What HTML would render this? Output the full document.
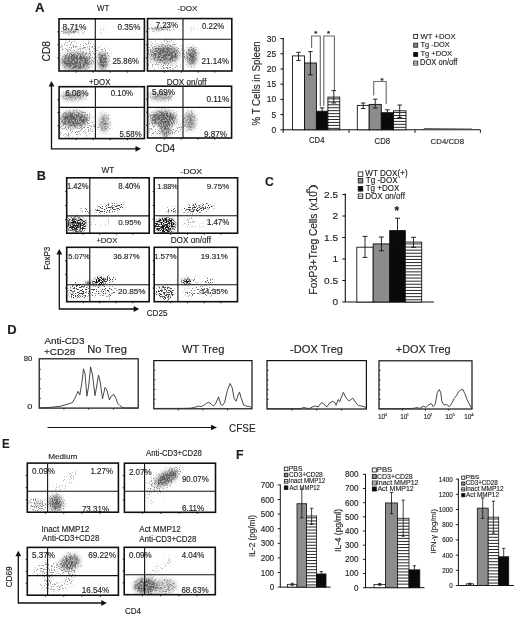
<!DOCTYPE html>
<html><head><meta charset="utf-8"><style>
html,body{margin:0;padding:0;background:#fff;}
svg{display:block;font-family:"Liberation Sans",sans-serif;will-change:transform;}
text{stroke:#1e1e1e;stroke-width:0.14px;}
</style></head><body>
<svg width="520" height="618" viewBox="0 0 520 618">
<defs><filter id="sp2" filterUnits="userSpaceOnUse" x="0" y="0" width="520" height="618" color-interpolation-filters="sRGB"><feGaussianBlur in="SourceGraphic" stdDeviation="0.9" result="b"/><feTurbulence type="fractalNoise" baseFrequency="0.6" numOctaves="2" seed="6" result="n"/><feColorMatrix in="n" type="matrix" values="0 0 0 0 0  0 0 0 0 0  0 0 0 0 0  3.2 0 0 0 -1.1" result="na"/><feComposite in="b" in2="na" operator="arithmetic" k1="1.0" k2="0.5" k3="0" k4="0" result="c"/><feColorMatrix in="c" type="matrix" values="0 0 0 0 0.3  0 0 0 0 0.3  0 0 0 0 0.3  0 0 0 1 0"/></filter><filter id="sps" filterUnits="userSpaceOnUse" x="0" y="0" width="520" height="618" color-interpolation-filters="sRGB"><feGaussianBlur in="SourceGraphic" stdDeviation="1.5" result="b"/><feTurbulence type="fractalNoise" baseFrequency="0.95" numOctaves="1" seed="11" result="n"/><feColorMatrix in="n" type="matrix" values="0 0 0 0 0  0 0 0 0 0  0 0 0 0 0  3.2 0 0 0 -1.1" result="na"/><feComposite in="b" in2="na" operator="arithmetic" k1="0" k2="3.5" k3="-3.5" k4="0" result="c"/><feColorMatrix in="c" type="matrix" values="0 0 0 0 0.12  0 0 0 0 0.12  0 0 0 0 0.12  0 0 0 0.85 0"/></filter><filter id="spt" filterUnits="userSpaceOnUse" x="0" y="0" width="520" height="618" color-interpolation-filters="sRGB"><feGaussianBlur in="SourceGraphic" stdDeviation="1.5" result="b"/><feTurbulence type="fractalNoise" baseFrequency="0.95" numOctaves="1" seed="13" result="n"/><feColorMatrix in="n" type="matrix" values="0 0 0 0 0  0 0 0 0 0  0 0 0 0 0  3.2 0 0 0 -1.1" result="na"/><feComposite in="b" in2="na" operator="arithmetic" k1="0" k2="3" k3="-3" k4="0" result="c"/><feColorMatrix in="c" type="matrix" values="0 0 0 0 0.38  0 0 0 0 0.38  0 0 0 0 0.38  0 0 0 0.75 0"/></filter><filter id="sp" filterUnits="userSpaceOnUse" x="0" y="0" width="520" height="618" color-interpolation-filters="sRGB"><feGaussianBlur in="SourceGraphic" stdDeviation="2.2" result="b"/><feTurbulence type="fractalNoise" baseFrequency="0.6" numOctaves="2" seed="4" result="n"/><feColorMatrix in="n" type="matrix" values="0 0 0 0 0  0 0 0 0 0  0 0 0 0 0  3.2 0 0 0 -1.1" result="na"/><feComposite in="b" in2="na" operator="arithmetic" k1="0.9" k2="0.55" k3="0" k4="0" result="c"/><feColorMatrix in="c" type="matrix" values="0 0 0 0 0.36  0 0 0 0 0.36  0 0 0 0 0.36  0 0 0 1 0"/></filter><filter id="spd" filterUnits="userSpaceOnUse" x="0" y="0" width="520" height="618" color-interpolation-filters="sRGB"><feGaussianBlur in="SourceGraphic" stdDeviation="1.5" result="b"/><feTurbulence type="fractalNoise" baseFrequency="0.8" numOctaves="2" seed="9" result="n"/><feColorMatrix in="n" type="matrix" values="0 0 0 0 0  0 0 0 0 0  0 0 0 0 0  3.2 0 0 0 -1.1" result="na"/><feComposite in="b" in2="na" operator="arithmetic" k1="3" k2="-0.5" k3="0" k4="0" result="c"/><feColorMatrix in="c" type="matrix" values="0 0 0 0 0.05  0 0 0 0 0.05  0 0 0 0 0.05  0 0 0 1 0"/></filter><filter id="spe" filterUnits="userSpaceOnUse" x="0" y="0" width="520" height="618" color-interpolation-filters="sRGB"><feGaussianBlur in="SourceGraphic" stdDeviation="1.8" result="b"/><feTurbulence type="fractalNoise" baseFrequency="0.7" numOctaves="2" seed="5" result="n"/><feColorMatrix in="n" type="matrix" values="0 0 0 0 0  0 0 0 0 0  0 0 0 0 0  3.2 0 0 0 -1.1" result="na"/><feComposite in="b" in2="na" operator="arithmetic" k1="1.6" k2="0.2" k3="0" k4="0" result="c"/><feColorMatrix in="c" type="matrix" values="0 0 0 0 0.25  0 0 0 0 0.25  0 0 0 0 0.25  0 0 0 1 0"/></filter><clipPath id="c1"><rect x="59.50" y="19.30" width="84.40" height="51.20"/></clipPath><clipPath id="c2"><rect x="59.50" y="19.30" width="84.40" height="51.20"/></clipPath><clipPath id="c3"><rect x="59.50" y="19.30" width="84.40" height="51.20"/></clipPath><clipPath id="c4"><rect x="148.00" y="19.10" width="83.30" height="51.40"/></clipPath><clipPath id="c5"><rect x="148.00" y="19.10" width="83.30" height="51.40"/></clipPath><clipPath id="c6"><rect x="148.00" y="19.10" width="83.30" height="51.40"/></clipPath><clipPath id="c7"><rect x="59.60" y="87.20" width="84.30" height="50.90"/></clipPath><clipPath id="c8"><rect x="59.60" y="87.20" width="84.30" height="50.90"/></clipPath><clipPath id="c9"><rect x="148.10" y="86.70" width="83.00" height="50.80"/></clipPath><clipPath id="c10"><rect x="148.10" y="86.70" width="83.00" height="50.80"/></clipPath><clipPath id="c11"><rect x="67.20" y="178.30" width="81.50" height="54.40"/></clipPath><clipPath id="c12"><rect x="67.20" y="178.30" width="81.50" height="54.40"/></clipPath><clipPath id="c13"><rect x="154.70" y="178.30" width="82.40" height="54.40"/></clipPath><clipPath id="c14"><rect x="154.70" y="178.30" width="82.40" height="54.40"/></clipPath><clipPath id="c15"><rect x="67.20" y="247.80" width="81.50" height="53.40"/></clipPath><clipPath id="c16"><rect x="67.20" y="247.80" width="81.50" height="53.40"/></clipPath><clipPath id="c17"><rect x="154.70" y="247.80" width="82.30" height="53.40"/></clipPath><clipPath id="c18"><rect x="154.70" y="247.80" width="82.30" height="53.40"/></clipPath><clipPath id="c19"><rect x="27.80" y="463.60" width="90.10" height="48.10"/></clipPath><clipPath id="c20"><rect x="27.80" y="463.60" width="90.10" height="48.10"/></clipPath><clipPath id="c21"><rect x="124.90" y="463.70" width="90.10" height="48.10"/></clipPath><clipPath id="c22"><rect x="124.90" y="463.70" width="90.10" height="48.10"/></clipPath><clipPath id="c23"><rect x="27.80" y="547.90" width="90.10" height="46.80"/></clipPath><clipPath id="c24"><rect x="27.80" y="547.90" width="90.10" height="46.80"/></clipPath><clipPath id="c25"><rect x="124.70" y="547.80" width="90.10" height="46.40"/></clipPath><clipPath id="c26"><rect x="124.70" y="547.80" width="90.10" height="46.40"/></clipPath></defs>
<rect width="520" height="618" fill="#fff"/>
<text x="35.07" y="11.90" font-size="13.04" textLength="9.59" lengthAdjust="spacingAndGlyphs" fill="#1e1e1e" font-weight="bold">A</text>
<text x="97.06" y="10.80" font-size="9.57" textLength="12.19" lengthAdjust="spacingAndGlyphs" fill="#1e1e1e">WT</text>
<text x="177.24" y="10.52" font-size="8.03" textLength="20.02" lengthAdjust="spacingAndGlyphs" fill="#1e1e1e">-DOX</text>
<text x="88.91" y="85.12" font-size="8.31" textLength="21.45" lengthAdjust="spacingAndGlyphs" fill="#1e1e1e">+DOX</text>
<text x="166.65" y="85.20" font-size="8.55" textLength="39.84" lengthAdjust="spacingAndGlyphs" fill="#1e1e1e">DOX on/off</text>
<g clip-path="url(#c1)"><g filter="url(#sp2)"><ellipse cx="70.5" cy="31.3" rx="8.5" ry="1.1" fill-opacity="0.75" transform="rotate(-4 70.5 31.3)"/></g></g>
<g clip-path="url(#c2)"><g filter="url(#sp)"><ellipse cx="76" cy="61.5" rx="15" ry="8.5" fill-opacity="0.8"/><ellipse cx="102.8" cy="61" rx="4.5" ry="8.5" fill-opacity="0.95"/></g></g>
<g clip-path="url(#c3)"><g filter="url(#spt)"><ellipse cx="77" cy="55" rx="22" ry="17" fill-opacity="0.3"/><ellipse cx="103" cy="32" rx="5" ry="5" fill-opacity="0.15"/><ellipse cx="72" cy="31" rx="16" ry="4" fill-opacity="0.25"/><ellipse cx="103" cy="58" rx="8" ry="12" fill-opacity="0.25"/></g></g>
<g clip-path="url(#c4)"><g filter="url(#sp2)"><ellipse cx="160" cy="28.8" rx="9" ry="1.3" fill-opacity="0.6" transform="rotate(-4 160 28.8)"/></g></g>
<g clip-path="url(#c5)"><g filter="url(#sp)"><ellipse cx="165" cy="54.5" rx="14" ry="8.5" fill-opacity="0.8"/><ellipse cx="192" cy="56.5" rx="4.5" ry="8.5" fill-opacity="0.95"/></g></g>
<g clip-path="url(#c6)"><g filter="url(#spt)"><ellipse cx="165" cy="55" rx="22" ry="17" fill-opacity="0.3"/><ellipse cx="192" cy="30" rx="5" ry="5" fill-opacity="0.15"/><ellipse cx="160" cy="28" rx="16" ry="4" fill-opacity="0.25"/><ellipse cx="192" cy="56" rx="8" ry="12" fill-opacity="0.25"/></g></g>
<g clip-path="url(#c7)"><g filter="url(#sp)"><ellipse cx="73" cy="96.5" rx="12" ry="3.5" fill-opacity="0.6"/><ellipse cx="74" cy="119.5" rx="14" ry="7.5" fill-opacity="0.85"/><ellipse cx="104" cy="123" rx="4.5" ry="9" fill-opacity="0.6"/></g></g>
<g clip-path="url(#c8)"><g filter="url(#spt)"><ellipse cx="75" cy="124" rx="21" ry="15" fill-opacity="0.3"/><ellipse cx="74" cy="96" rx="16" ry="5" fill-opacity="0.25"/><ellipse cx="104" cy="123" rx="8" ry="12" fill-opacity="0.2"/></g></g>
<g clip-path="url(#c9)"><g filter="url(#sp)"><ellipse cx="161" cy="96.5" rx="11" ry="3.5" fill-opacity="0.6"/><ellipse cx="163" cy="118.5" rx="13" ry="7.5" fill-opacity="0.85"/><ellipse cx="165.5" cy="129" rx="5" ry="8" fill-opacity="0.7"/><ellipse cx="190" cy="121" rx="5.5" ry="9" fill-opacity="0.6"/></g></g>
<g clip-path="url(#c10)"><g filter="url(#spt)"><ellipse cx="164" cy="124" rx="21" ry="15" fill-opacity="0.3"/><ellipse cx="161" cy="96" rx="16" ry="5" fill-opacity="0.25"/><ellipse cx="190" cy="121" rx="8" ry="12" fill-opacity="0.2"/></g></g>
<rect x="59.00" y="18.80" width="85.40" height="52.20" fill="none" stroke="#111" stroke-width="1.6"/>
<line x1="95.30" y1="18.80" x2="95.30" y2="71.00" stroke="#111" stroke-width="1.1"/>
<line x1="59.00" y1="39.40" x2="144.40" y2="39.40" stroke="#111" stroke-width="1.1"/>
<line x1="57.40" y1="57.95" x2="59.00" y2="57.95" stroke="#111" stroke-width="0.9"/>
<line x1="57.40" y1="44.90" x2="59.00" y2="44.90" stroke="#111" stroke-width="0.9"/>
<line x1="57.40" y1="31.85" x2="59.00" y2="31.85" stroke="#111" stroke-width="0.9"/>
<line x1="76.08" y1="71.00" x2="76.08" y2="72.60" stroke="#111" stroke-width="0.9"/>
<line x1="93.16" y1="71.00" x2="93.16" y2="72.60" stroke="#111" stroke-width="0.9"/>
<line x1="110.24" y1="71.00" x2="110.24" y2="72.60" stroke="#111" stroke-width="0.9"/>
<line x1="127.32" y1="71.00" x2="127.32" y2="72.60" stroke="#111" stroke-width="0.9"/>
<rect x="147.50" y="18.60" width="84.30" height="52.40" fill="none" stroke="#111" stroke-width="1.6"/>
<line x1="183.00" y1="18.60" x2="183.00" y2="71.00" stroke="#111" stroke-width="1.1"/>
<line x1="147.50" y1="39.30" x2="231.80" y2="39.30" stroke="#111" stroke-width="1.1"/>
<line x1="145.90" y1="57.90" x2="147.50" y2="57.90" stroke="#111" stroke-width="0.9"/>
<line x1="145.90" y1="44.80" x2="147.50" y2="44.80" stroke="#111" stroke-width="0.9"/>
<line x1="145.90" y1="31.70" x2="147.50" y2="31.70" stroke="#111" stroke-width="0.9"/>
<line x1="164.36" y1="71.00" x2="164.36" y2="72.60" stroke="#111" stroke-width="0.9"/>
<line x1="181.22" y1="71.00" x2="181.22" y2="72.60" stroke="#111" stroke-width="0.9"/>
<line x1="198.08" y1="71.00" x2="198.08" y2="72.60" stroke="#111" stroke-width="0.9"/>
<line x1="214.94" y1="71.00" x2="214.94" y2="72.60" stroke="#111" stroke-width="0.9"/>
<rect x="59.10" y="86.70" width="85.30" height="51.90" fill="none" stroke="#111" stroke-width="1.6"/>
<line x1="95.40" y1="86.70" x2="95.40" y2="138.60" stroke="#111" stroke-width="1.1"/>
<line x1="59.10" y1="107.40" x2="144.40" y2="107.40" stroke="#111" stroke-width="1.1"/>
<line x1="57.50" y1="125.62" x2="59.10" y2="125.62" stroke="#111" stroke-width="0.9"/>
<line x1="57.50" y1="112.65" x2="59.10" y2="112.65" stroke="#111" stroke-width="0.9"/>
<line x1="57.50" y1="99.67" x2="59.10" y2="99.67" stroke="#111" stroke-width="0.9"/>
<line x1="76.16" y1="138.60" x2="76.16" y2="140.20" stroke="#111" stroke-width="0.9"/>
<line x1="93.22" y1="138.60" x2="93.22" y2="140.20" stroke="#111" stroke-width="0.9"/>
<line x1="110.28" y1="138.60" x2="110.28" y2="140.20" stroke="#111" stroke-width="0.9"/>
<line x1="127.34" y1="138.60" x2="127.34" y2="140.20" stroke="#111" stroke-width="0.9"/>
<rect x="147.60" y="86.20" width="84.00" height="51.80" fill="none" stroke="#111" stroke-width="1.6"/>
<line x1="183.00" y1="86.20" x2="183.00" y2="138.00" stroke="#111" stroke-width="1.1"/>
<line x1="147.60" y1="107.40" x2="231.60" y2="107.40" stroke="#111" stroke-width="1.1"/>
<line x1="146.00" y1="125.05" x2="147.60" y2="125.05" stroke="#111" stroke-width="0.9"/>
<line x1="146.00" y1="112.10" x2="147.60" y2="112.10" stroke="#111" stroke-width="0.9"/>
<line x1="146.00" y1="99.15" x2="147.60" y2="99.15" stroke="#111" stroke-width="0.9"/>
<line x1="164.40" y1="138.00" x2="164.40" y2="139.60" stroke="#111" stroke-width="0.9"/>
<line x1="181.20" y1="138.00" x2="181.20" y2="139.60" stroke="#111" stroke-width="0.9"/>
<line x1="198.00" y1="138.00" x2="198.00" y2="139.60" stroke="#111" stroke-width="0.9"/>
<line x1="214.80" y1="138.00" x2="214.80" y2="139.60" stroke="#111" stroke-width="0.9"/>
<text x="62.62" y="30.11" font-size="9.37" textLength="23.88" lengthAdjust="spacingAndGlyphs" fill="#1e1e1e">8.71%</text>
<text x="117.48" y="30.11" font-size="9.37" textLength="23.01" lengthAdjust="spacingAndGlyphs" fill="#1e1e1e">0.35%</text>
<text x="112.41" y="64.12" font-size="8.45" textLength="26.54" lengthAdjust="spacingAndGlyphs" fill="#1e1e1e">25.86%</text>
<text x="155.71" y="27.61" font-size="9.01" textLength="22.27" lengthAdjust="spacingAndGlyphs" fill="#1e1e1e">7.23%</text>
<text x="201.99" y="28.61" font-size="9.01" textLength="22.24" lengthAdjust="spacingAndGlyphs" fill="#1e1e1e">0.22%</text>
<text x="201.39" y="64.36" font-size="8.65" textLength="27.56" lengthAdjust="spacingAndGlyphs" fill="#1e1e1e">21.14%</text>
<text x="65.19" y="96.31" font-size="8.73" textLength="23.30" lengthAdjust="spacingAndGlyphs" fill="#1e1e1e">6.08%</text>
<text x="110.74" y="96.36" font-size="8.66" textLength="22.24" lengthAdjust="spacingAndGlyphs" fill="#1e1e1e">0.10%</text>
<text x="119.49" y="136.62" font-size="8.31" textLength="22.19" lengthAdjust="spacingAndGlyphs" fill="#1e1e1e">5.58%</text>
<text x="151.98" y="95.11" font-size="9.37" textLength="23.01" lengthAdjust="spacingAndGlyphs" fill="#1e1e1e">5.69%</text>
<text x="206.47" y="102.11" font-size="8.73" textLength="22.83" lengthAdjust="spacingAndGlyphs" fill="#1e1e1e">0.11%</text>
<text x="204.04" y="136.92" font-size="8.45" textLength="22.95" lengthAdjust="spacingAndGlyphs" fill="#1e1e1e">9.87%</text>
<text transform="translate(49.58,61.52) rotate(-90)" x="0" y="0" font-size="11.83" textLength="20.63" lengthAdjust="spacingAndGlyphs" fill="#1e1e1e">CD8</text>
<text x="155.31" y="152.30" font-size="10.28" textLength="19.80" lengthAdjust="spacingAndGlyphs" fill="#1e1e1e">CD4</text>
<line x1="51.50" y1="149.40" x2="51.50" y2="85.00" stroke="#111" stroke-width="1.3"/>
<line x1="51.50" y1="148.80" x2="137.00" y2="148.80" stroke="#111" stroke-width="1.3"/>
<path d="M48.6 86.5 L51.5 81.0 L54.4 86.5Z" fill="#111"/>
<path d="M135.5 145.9 L141.0 148.8 L135.5 151.7Z" fill="#111"/>
<text transform="translate(260.40,125.44) rotate(-90)" x="0" y="0" font-size="10.43" textLength="84.17" lengthAdjust="spacingAndGlyphs" fill="#1e1e1e">% T Cells in Spleen</text>
<text x="276.24" y="132.89" font-size="8.70" text-anchor="end" textLength="4.69" lengthAdjust="spacingAndGlyphs" fill="#1e1e1e">0</text>
<line x1="280.40" y1="129.80" x2="283.20" y2="129.80" stroke="#111" stroke-width="1"/>
<text x="276.24" y="117.69" font-size="8.70" text-anchor="end" textLength="4.69" lengthAdjust="spacingAndGlyphs" fill="#1e1e1e">5</text>
<line x1="280.40" y1="114.60" x2="283.20" y2="114.60" stroke="#111" stroke-width="1"/>
<text x="276.24" y="102.49" font-size="8.70" text-anchor="end" textLength="9.39" lengthAdjust="spacingAndGlyphs" fill="#1e1e1e">10</text>
<line x1="280.40" y1="99.40" x2="283.20" y2="99.40" stroke="#111" stroke-width="1"/>
<text x="276.24" y="87.29" font-size="8.70" text-anchor="end" textLength="9.39" lengthAdjust="spacingAndGlyphs" fill="#1e1e1e">15</text>
<line x1="280.40" y1="84.20" x2="283.20" y2="84.20" stroke="#111" stroke-width="1"/>
<text x="276.24" y="72.09" font-size="8.70" text-anchor="end" textLength="9.39" lengthAdjust="spacingAndGlyphs" fill="#1e1e1e">20</text>
<line x1="280.40" y1="69.00" x2="283.20" y2="69.00" stroke="#111" stroke-width="1"/>
<text x="276.24" y="56.89" font-size="8.70" text-anchor="end" textLength="9.39" lengthAdjust="spacingAndGlyphs" fill="#1e1e1e">25</text>
<line x1="280.40" y1="53.80" x2="283.20" y2="53.80" stroke="#111" stroke-width="1"/>
<text x="276.24" y="41.69" font-size="8.70" text-anchor="end" textLength="9.39" lengthAdjust="spacingAndGlyphs" fill="#1e1e1e">30</text>
<line x1="280.40" y1="38.60" x2="283.20" y2="38.60" stroke="#111" stroke-width="1"/>
<line x1="283.20" y1="38.00" x2="283.20" y2="132.70" stroke="#111" stroke-width="1.1"/>
<line x1="283.20" y1="129.80" x2="480.40" y2="129.80" stroke="#111" stroke-width="1.1"/>
<line x1="349.00" y1="129.80" x2="349.00" y2="132.80" stroke="#111" stroke-width="1"/>
<line x1="415.00" y1="129.80" x2="415.00" y2="132.80" stroke="#111" stroke-width="1"/>
<line x1="480.40" y1="129.80" x2="480.40" y2="132.80" stroke="#111" stroke-width="1"/>
<rect x="292.50" y="55.90" width="12.00" height="73.90" fill="#fff" stroke="#111" stroke-width="0.9"/>
<line x1="298.50" y1="52.30" x2="298.50" y2="60.40" stroke="#111" stroke-width="0.9"/>
<line x1="296.25" y1="52.30" x2="300.75" y2="52.30" stroke="#111" stroke-width="0.9"/>
<line x1="296.25" y1="60.40" x2="300.75" y2="60.40" stroke="#111" stroke-width="0.9"/>
<rect x="304.50" y="63.00" width="11.90" height="66.80" fill="#8c8c8c" stroke="#111" stroke-width="0.9"/>
<line x1="310.40" y1="51.60" x2="310.40" y2="74.80" stroke="#111" stroke-width="0.9"/>
<line x1="308.15" y1="51.60" x2="312.65" y2="51.60" stroke="#111" stroke-width="0.9"/>
<line x1="308.15" y1="74.80" x2="312.65" y2="74.80" stroke="#111" stroke-width="0.9"/>
<rect x="316.40" y="111.25" width="11.50" height="18.55" fill="#0a0a0a" stroke="#111" stroke-width="0.9"/>
<line x1="322.10" y1="107.90" x2="322.10" y2="114.50" stroke="#111" stroke-width="0.9"/>
<line x1="319.85" y1="107.90" x2="324.35" y2="107.90" stroke="#111" stroke-width="0.9"/>
<line x1="319.85" y1="114.50" x2="324.35" y2="114.50" stroke="#111" stroke-width="0.9"/>
<rect x="327.90" y="97.10" width="11.85" height="32.70" fill="#fff" stroke="#111" stroke-width="0.9"/>
<line x1="327.90" y1="98.87" x2="339.75" y2="98.87" stroke="#111" stroke-width="0.9"/>
<line x1="327.90" y1="101.82" x2="339.75" y2="101.82" stroke="#111" stroke-width="0.9"/>
<line x1="327.90" y1="104.77" x2="339.75" y2="104.77" stroke="#111" stroke-width="0.9"/>
<line x1="327.90" y1="107.72" x2="339.75" y2="107.72" stroke="#111" stroke-width="0.9"/>
<line x1="327.90" y1="110.67" x2="339.75" y2="110.67" stroke="#111" stroke-width="0.9"/>
<line x1="327.90" y1="113.62" x2="339.75" y2="113.62" stroke="#111" stroke-width="0.9"/>
<line x1="327.90" y1="116.57" x2="339.75" y2="116.57" stroke="#111" stroke-width="0.9"/>
<line x1="327.90" y1="119.52" x2="339.75" y2="119.52" stroke="#111" stroke-width="0.9"/>
<line x1="327.90" y1="122.47" x2="339.75" y2="122.47" stroke="#111" stroke-width="0.9"/>
<line x1="327.90" y1="125.42" x2="339.75" y2="125.42" stroke="#111" stroke-width="0.9"/>
<line x1="327.90" y1="128.37" x2="339.75" y2="128.37" stroke="#111" stroke-width="0.9"/>
<line x1="333.80" y1="90.60" x2="333.80" y2="103.00" stroke="#111" stroke-width="0.9"/>
<line x1="331.55" y1="90.60" x2="336.05" y2="90.60" stroke="#111" stroke-width="0.9"/>
<line x1="331.55" y1="103.00" x2="336.05" y2="103.00" stroke="#111" stroke-width="0.9"/>
<rect x="357.30" y="105.40" width="11.90" height="24.40" fill="#fff" stroke="#111" stroke-width="0.9"/>
<line x1="363.20" y1="103.00" x2="363.20" y2="108.50" stroke="#111" stroke-width="0.9"/>
<line x1="360.95" y1="103.00" x2="365.45" y2="103.00" stroke="#111" stroke-width="0.9"/>
<line x1="360.95" y1="108.50" x2="365.45" y2="108.50" stroke="#111" stroke-width="0.9"/>
<rect x="369.20" y="104.40" width="12.10" height="25.40" fill="#8c8c8c" stroke="#111" stroke-width="0.9"/>
<line x1="375.20" y1="99.20" x2="375.20" y2="108.00" stroke="#111" stroke-width="0.9"/>
<line x1="372.95" y1="99.20" x2="377.45" y2="99.20" stroke="#111" stroke-width="0.9"/>
<line x1="372.95" y1="108.00" x2="377.45" y2="108.00" stroke="#111" stroke-width="0.9"/>
<rect x="381.30" y="112.70" width="12.20" height="17.10" fill="#0a0a0a" stroke="#111" stroke-width="0.9"/>
<line x1="387.40" y1="109.80" x2="387.40" y2="115.50" stroke="#111" stroke-width="0.9"/>
<line x1="385.15" y1="109.80" x2="389.65" y2="109.80" stroke="#111" stroke-width="0.9"/>
<line x1="385.15" y1="115.50" x2="389.65" y2="115.50" stroke="#111" stroke-width="0.9"/>
<rect x="393.50" y="110.80" width="12.50" height="19.00" fill="#fff" stroke="#111" stroke-width="0.9"/>
<line x1="393.50" y1="112.57" x2="406.00" y2="112.57" stroke="#111" stroke-width="0.9"/>
<line x1="393.50" y1="115.52" x2="406.00" y2="115.52" stroke="#111" stroke-width="0.9"/>
<line x1="393.50" y1="118.47" x2="406.00" y2="118.47" stroke="#111" stroke-width="0.9"/>
<line x1="393.50" y1="121.42" x2="406.00" y2="121.42" stroke="#111" stroke-width="0.9"/>
<line x1="393.50" y1="124.37" x2="406.00" y2="124.37" stroke="#111" stroke-width="0.9"/>
<line x1="393.50" y1="127.32" x2="406.00" y2="127.32" stroke="#111" stroke-width="0.9"/>
<line x1="399.70" y1="105.00" x2="399.70" y2="117.50" stroke="#111" stroke-width="0.9"/>
<line x1="397.45" y1="105.00" x2="401.95" y2="105.00" stroke="#111" stroke-width="0.9"/>
<line x1="397.45" y1="117.50" x2="401.95" y2="117.50" stroke="#111" stroke-width="0.9"/>
<path d="M423 129.8 L424 128.6 L472 128.9 L472 129.8" fill="#555" stroke="#333" stroke-width="0.6"/>
<path d="M311.6 48.1 V36 H320.3 V106.4" fill="none" stroke="#6e6e6e" stroke-width="1.15"/>
<path d="M323.8 106 V36 H334.4 V90" fill="none" stroke="#6e6e6e" stroke-width="1.15"/>
<path d="M373.7 95.4 V81.5 H386.2 V104" fill="none" stroke="#6e6e6e" stroke-width="1.15"/>
<text x="314.27" y="36.36" font-size="7.84" font-weight="bold" fill="#1e1e1e">*</text>
<text x="327.07" y="36.36" font-size="7.84" font-weight="bold" fill="#1e1e1e">*</text>
<text x="380.47" y="82.86" font-size="7.84" font-weight="bold" fill="#1e1e1e">*</text>
<text x="309.01" y="143.42" font-size="8.17" textLength="15.42" lengthAdjust="spacingAndGlyphs" fill="#1e1e1e">CD4</text>
<text x="374.61" y="143.92" font-size="8.31" textLength="15.50" lengthAdjust="spacingAndGlyphs" fill="#1e1e1e">CD8</text>
<text x="430.61" y="143.92" font-size="8.03" textLength="33.39" lengthAdjust="spacingAndGlyphs" fill="#1e1e1e">CD4/CD8</text>
<rect x="413.70" y="34.50" width="4.00" height="4.00" fill="#fff" stroke="#111" stroke-width="0.8"/>
<rect x="413.70" y="43.20" width="4.00" height="4.00" fill="#8c8c8c" stroke="#111" stroke-width="0.8"/>
<rect x="413.70" y="52.40" width="4.00" height="4.00" fill="#0a0a0a" stroke="#111" stroke-width="0.8"/>
<rect x="413.70" y="61.10" width="4.00" height="4.00" fill="#fff" stroke="#111" stroke-width="0.8"/>
<line x1="413.70" y1="63.10" x2="417.70" y2="63.10" stroke="#111" stroke-width="0.7"/>
<text x="420.56" y="38.60" font-size="7.97" textLength="35.00" lengthAdjust="spacingAndGlyphs" fill="#1e1e1e">WT +DOX</text>
<text x="420.45" y="47.20" font-size="7.54" textLength="29.30" lengthAdjust="spacingAndGlyphs" fill="#1e1e1e">Tg -DOX</text>
<text x="420.45" y="56.10" font-size="7.83" textLength="31.71" lengthAdjust="spacingAndGlyphs" fill="#1e1e1e">Tg +DOX</text>
<text x="419.99" y="65.20" font-size="8.26" textLength="37.30" lengthAdjust="spacingAndGlyphs" fill="#1e1e1e">DOX on/off</text>
<text x="36.67" y="179.90" font-size="13.33" textLength="9.23" lengthAdjust="spacingAndGlyphs" fill="#1e1e1e" font-weight="bold">B</text>
<g clip-path="url(#c11)"><g filter="url(#spd)"><ellipse cx="77" cy="224.5" rx="9" ry="7" fill-opacity="0.55"/></g></g>
<g clip-path="url(#c12)"><g filter="url(#sps)"><ellipse cx="110" cy="208" rx="15" ry="4" fill-opacity="0.45" transform="rotate(-8 110 208)"/><ellipse cx="86" cy="210" rx="6" ry="3" fill-opacity="0.25"/><ellipse cx="100" cy="222" rx="10" ry="5" fill-opacity="0.14"/><ellipse cx="77" cy="224.5" rx="11" ry="8.5" fill-opacity="0.4"/></g></g>
<g clip-path="url(#c13)"><g filter="url(#spd)"><ellipse cx="165" cy="225" rx="10" ry="7.5" fill-opacity="0.65"/></g></g>
<g clip-path="url(#c14)"><g filter="url(#sps)"><ellipse cx="198" cy="208" rx="16" ry="4.5" fill-opacity="0.45" transform="rotate(-8 198 208)"/><ellipse cx="172" cy="210" rx="7" ry="3" fill-opacity="0.3"/><ellipse cx="195" cy="222" rx="14" ry="5" fill-opacity="0.16"/><ellipse cx="165" cy="225" rx="12" ry="9" fill-opacity="0.3"/></g></g>
<g clip-path="url(#c15)"><g filter="url(#spd)"><ellipse cx="100" cy="281" rx="5.5" ry="3.5" fill-opacity="0.95"/><ellipse cx="90" cy="283" rx="6" ry="2" fill-opacity="0.4"/></g></g>
<g clip-path="url(#c16)"><g filter="url(#sps)"><ellipse cx="79" cy="292" rx="10" ry="8" fill-opacity="0.5"/><ellipse cx="103" cy="292" rx="14" ry="7" fill-opacity="0.3"/><ellipse cx="108" cy="279" rx="14" ry="3.5" fill-opacity="0.35"/><ellipse cx="78" cy="281" rx="8" ry="3" fill-opacity="0.2"/></g></g>
<g clip-path="url(#c17)"><g filter="url(#spd)"><ellipse cx="186" cy="281.5" rx="4" ry="2.4" fill-opacity="0.85"/></g></g>
<g clip-path="url(#c18)"><g filter="url(#sps)"><ellipse cx="165" cy="293" rx="9" ry="7" fill-opacity="0.62"/><ellipse cx="198" cy="281" rx="16" ry="3.5" fill-opacity="0.36"/><ellipse cx="200" cy="292" rx="16" ry="6" fill-opacity="0.24"/></g></g>
<rect x="66.70" y="177.80" width="82.50" height="55.40" fill="none" stroke="#111" stroke-width="1.6"/>
<line x1="89.80" y1="177.80" x2="89.80" y2="233.20" stroke="#111" stroke-width="1.1"/>
<line x1="66.70" y1="215.90" x2="149.20" y2="215.90" stroke="#111" stroke-width="1.1"/>
<line x1="65.10" y1="219.35" x2="66.70" y2="219.35" stroke="#111" stroke-width="0.9"/>
<line x1="65.10" y1="205.50" x2="66.70" y2="205.50" stroke="#111" stroke-width="0.9"/>
<line x1="65.10" y1="191.65" x2="66.70" y2="191.65" stroke="#111" stroke-width="0.9"/>
<line x1="83.20" y1="233.20" x2="83.20" y2="234.80" stroke="#111" stroke-width="0.9"/>
<line x1="99.70" y1="233.20" x2="99.70" y2="234.80" stroke="#111" stroke-width="0.9"/>
<line x1="116.20" y1="233.20" x2="116.20" y2="234.80" stroke="#111" stroke-width="0.9"/>
<line x1="132.70" y1="233.20" x2="132.70" y2="234.80" stroke="#111" stroke-width="0.9"/>
<rect x="154.20" y="177.80" width="83.40" height="55.40" fill="none" stroke="#111" stroke-width="1.6"/>
<line x1="177.90" y1="177.80" x2="177.90" y2="233.20" stroke="#111" stroke-width="1.1"/>
<line x1="154.20" y1="215.70" x2="237.60" y2="215.70" stroke="#111" stroke-width="1.1"/>
<line x1="152.60" y1="219.35" x2="154.20" y2="219.35" stroke="#111" stroke-width="0.9"/>
<line x1="152.60" y1="205.50" x2="154.20" y2="205.50" stroke="#111" stroke-width="0.9"/>
<line x1="152.60" y1="191.65" x2="154.20" y2="191.65" stroke="#111" stroke-width="0.9"/>
<line x1="170.88" y1="233.20" x2="170.88" y2="234.80" stroke="#111" stroke-width="0.9"/>
<line x1="187.56" y1="233.20" x2="187.56" y2="234.80" stroke="#111" stroke-width="0.9"/>
<line x1="204.24" y1="233.20" x2="204.24" y2="234.80" stroke="#111" stroke-width="0.9"/>
<line x1="220.92" y1="233.20" x2="220.92" y2="234.80" stroke="#111" stroke-width="0.9"/>
<rect x="66.70" y="247.30" width="82.50" height="54.40" fill="none" stroke="#111" stroke-width="1.6"/>
<line x1="89.80" y1="247.30" x2="89.80" y2="301.70" stroke="#111" stroke-width="1.1"/>
<line x1="66.70" y1="284.80" x2="149.20" y2="284.80" stroke="#111" stroke-width="1.1"/>
<line x1="65.10" y1="288.10" x2="66.70" y2="288.10" stroke="#111" stroke-width="0.9"/>
<line x1="65.10" y1="274.50" x2="66.70" y2="274.50" stroke="#111" stroke-width="0.9"/>
<line x1="65.10" y1="260.90" x2="66.70" y2="260.90" stroke="#111" stroke-width="0.9"/>
<line x1="83.20" y1="301.70" x2="83.20" y2="303.30" stroke="#111" stroke-width="0.9"/>
<line x1="99.70" y1="301.70" x2="99.70" y2="303.30" stroke="#111" stroke-width="0.9"/>
<line x1="116.20" y1="301.70" x2="116.20" y2="303.30" stroke="#111" stroke-width="0.9"/>
<line x1="132.70" y1="301.70" x2="132.70" y2="303.30" stroke="#111" stroke-width="0.9"/>
<rect x="154.20" y="247.30" width="83.30" height="54.40" fill="none" stroke="#111" stroke-width="1.6"/>
<line x1="177.90" y1="247.30" x2="177.90" y2="301.70" stroke="#111" stroke-width="1.1"/>
<line x1="154.20" y1="284.80" x2="237.50" y2="284.80" stroke="#111" stroke-width="1.1"/>
<line x1="152.60" y1="288.10" x2="154.20" y2="288.10" stroke="#111" stroke-width="0.9"/>
<line x1="152.60" y1="274.50" x2="154.20" y2="274.50" stroke="#111" stroke-width="0.9"/>
<line x1="152.60" y1="260.90" x2="154.20" y2="260.90" stroke="#111" stroke-width="0.9"/>
<line x1="170.86" y1="301.70" x2="170.86" y2="303.30" stroke="#111" stroke-width="0.9"/>
<line x1="187.52" y1="301.70" x2="187.52" y2="303.30" stroke="#111" stroke-width="0.9"/>
<line x1="204.18" y1="301.70" x2="204.18" y2="303.30" stroke="#111" stroke-width="0.9"/>
<line x1="220.84" y1="301.70" x2="220.84" y2="303.30" stroke="#111" stroke-width="0.9"/>
<text x="101.46" y="172.50" font-size="9.57" textLength="12.80" lengthAdjust="spacingAndGlyphs" fill="#1e1e1e">WT</text>
<text x="180.20" y="173.92" font-size="7.75" textLength="22.07" lengthAdjust="spacingAndGlyphs" fill="#1e1e1e">-DOX</text>
<text x="96.42" y="243.12" font-size="8.03" textLength="20.94" lengthAdjust="spacingAndGlyphs" fill="#1e1e1e">+DOX</text>
<text x="170.65" y="243.20" font-size="8.26" textLength="40.34" lengthAdjust="spacingAndGlyphs" fill="#1e1e1e">DOX on/off</text>
<text x="66.93" y="188.66" font-size="8.37" textLength="21.44" lengthAdjust="spacingAndGlyphs" fill="#1e1e1e">1.42%</text>
<text x="118.15" y="188.62" font-size="8.31" textLength="22.13" lengthAdjust="spacingAndGlyphs" fill="#1e1e1e">8.40%</text>
<text x="118.18" y="225.12" font-size="7.89" textLength="22.70" lengthAdjust="spacingAndGlyphs" fill="#1e1e1e">0.95%</text>
<text x="157.26" y="188.92" font-size="8.03" textLength="20.50" lengthAdjust="spacingAndGlyphs" fill="#1e1e1e">1.88%</text>
<text x="206.74" y="188.92" font-size="8.03" textLength="22.54" lengthAdjust="spacingAndGlyphs" fill="#1e1e1e">9.75%</text>
<text x="206.91" y="224.96" font-size="8.29" textLength="22.37" lengthAdjust="spacingAndGlyphs" fill="#1e1e1e">1.47%</text>
<text x="68.20" y="258.92" font-size="7.75" textLength="21.47" lengthAdjust="spacingAndGlyphs" fill="#1e1e1e">5.07%</text>
<text x="113.29" y="258.92" font-size="7.75" textLength="26.36" lengthAdjust="spacingAndGlyphs" fill="#1e1e1e">36.87%</text>
<text x="118.10" y="294.12" font-size="7.89" textLength="27.36" lengthAdjust="spacingAndGlyphs" fill="#1e1e1e">20.85%</text>
<text x="154.01" y="258.92" font-size="7.80" textLength="22.48" lengthAdjust="spacingAndGlyphs" fill="#1e1e1e">1.57%</text>
<text x="200.70" y="258.92" font-size="7.75" textLength="27.05" lengthAdjust="spacingAndGlyphs" fill="#1e1e1e">19.31%</text>
<text x="200.70" y="294.12" font-size="7.89" textLength="27.05" lengthAdjust="spacingAndGlyphs" fill="#1e1e1e">14.35%</text>
<text transform="translate(49.81,269.74) rotate(-90)" x="0" y="0" font-size="9.15" textLength="22.95" lengthAdjust="spacingAndGlyphs" fill="#1e1e1e">FoxP3</text>
<text x="146.69" y="316.12" font-size="8.31" textLength="20.85" lengthAdjust="spacingAndGlyphs" fill="#1e1e1e">CD25</text>
<line x1="59.30" y1="309.60" x2="59.30" y2="253.00" stroke="#111" stroke-width="1.3"/>
<line x1="59.30" y1="309.00" x2="135.20" y2="309.00" stroke="#111" stroke-width="1.3"/>
<path d="M56.4 254.5 L59.3 249.0 L62.2 254.5Z" fill="#111"/>
<path d="M133.7 306.1 L139.2 309.0 L133.7 311.9Z" fill="#111"/>
<text x="265.11" y="185.87" font-size="13.24" textLength="8.82" lengthAdjust="spacingAndGlyphs" fill="#1e1e1e" font-weight="bold">C</text>
<text x="338.20" y="305.27" font-size="9.20" text-anchor="end" textLength="5.63" lengthAdjust="spacingAndGlyphs" fill="#1e1e1e">0</text>
<line x1="342.30" y1="302.00" x2="345.30" y2="302.00" stroke="#111" stroke-width="1"/>
<text x="338.20" y="283.77" font-size="9.20" text-anchor="end" textLength="14.07" lengthAdjust="spacingAndGlyphs" fill="#1e1e1e">0.5</text>
<line x1="342.30" y1="280.50" x2="345.30" y2="280.50" stroke="#111" stroke-width="1"/>
<text x="338.20" y="262.27" font-size="9.20" text-anchor="end" textLength="5.63" lengthAdjust="spacingAndGlyphs" fill="#1e1e1e">1</text>
<line x1="342.30" y1="259.00" x2="345.30" y2="259.00" stroke="#111" stroke-width="1"/>
<text x="338.20" y="240.77" font-size="9.20" text-anchor="end" textLength="14.07" lengthAdjust="spacingAndGlyphs" fill="#1e1e1e">1.5</text>
<line x1="342.30" y1="237.50" x2="345.30" y2="237.50" stroke="#111" stroke-width="1"/>
<text x="338.20" y="219.27" font-size="9.20" text-anchor="end" textLength="5.63" lengthAdjust="spacingAndGlyphs" fill="#1e1e1e">2</text>
<line x1="342.30" y1="216.00" x2="345.30" y2="216.00" stroke="#111" stroke-width="1"/>
<text x="338.20" y="197.77" font-size="9.20" text-anchor="end" textLength="14.07" lengthAdjust="spacingAndGlyphs" fill="#1e1e1e">2.5</text>
<line x1="342.30" y1="194.50" x2="345.30" y2="194.50" stroke="#111" stroke-width="1"/>
<line x1="345.30" y1="193.50" x2="345.30" y2="302.00" stroke="#111" stroke-width="1.1"/>
<line x1="345.30" y1="302.00" x2="434.00" y2="302.00" stroke="#111" stroke-width="1.1"/>
<rect x="356.80" y="247.20" width="16.40" height="54.80" fill="#fff" stroke="#111" stroke-width="0.9"/>
<line x1="365.00" y1="236.40" x2="365.00" y2="257.40" stroke="#111" stroke-width="0.9"/>
<line x1="362.50" y1="236.40" x2="367.50" y2="236.40" stroke="#111" stroke-width="0.9"/>
<line x1="362.50" y1="257.40" x2="367.50" y2="257.40" stroke="#111" stroke-width="0.9"/>
<rect x="373.20" y="243.90" width="16.50" height="58.10" fill="#8c8c8c" stroke="#111" stroke-width="0.9"/>
<line x1="381.40" y1="237.00" x2="381.40" y2="250.80" stroke="#111" stroke-width="0.9"/>
<line x1="378.90" y1="237.00" x2="383.90" y2="237.00" stroke="#111" stroke-width="0.9"/>
<line x1="378.90" y1="250.80" x2="383.90" y2="250.80" stroke="#111" stroke-width="0.9"/>
<rect x="389.70" y="230.60" width="15.60" height="71.40" fill="#0a0a0a" stroke="#111" stroke-width="0.9"/>
<line x1="397.50" y1="218.20" x2="397.50" y2="240.00" stroke="#111" stroke-width="0.9"/>
<line x1="395.00" y1="218.20" x2="400.00" y2="218.20" stroke="#111" stroke-width="0.9"/>
<line x1="395.00" y1="240.00" x2="400.00" y2="240.00" stroke="#111" stroke-width="0.9"/>
<rect x="405.30" y="242.10" width="16.40" height="59.90" fill="#fff" stroke="#111" stroke-width="0.9"/>
<line x1="405.30" y1="243.96" x2="421.70" y2="243.96" stroke="#111" stroke-width="0.9"/>
<line x1="405.30" y1="247.06" x2="421.70" y2="247.06" stroke="#111" stroke-width="0.9"/>
<line x1="405.30" y1="250.16" x2="421.70" y2="250.16" stroke="#111" stroke-width="0.9"/>
<line x1="405.30" y1="253.26" x2="421.70" y2="253.26" stroke="#111" stroke-width="0.9"/>
<line x1="405.30" y1="256.36" x2="421.70" y2="256.36" stroke="#111" stroke-width="0.9"/>
<line x1="405.30" y1="259.46" x2="421.70" y2="259.46" stroke="#111" stroke-width="0.9"/>
<line x1="405.30" y1="262.56" x2="421.70" y2="262.56" stroke="#111" stroke-width="0.9"/>
<line x1="405.30" y1="265.66" x2="421.70" y2="265.66" stroke="#111" stroke-width="0.9"/>
<line x1="405.30" y1="268.76" x2="421.70" y2="268.76" stroke="#111" stroke-width="0.9"/>
<line x1="405.30" y1="271.86" x2="421.70" y2="271.86" stroke="#111" stroke-width="0.9"/>
<line x1="405.30" y1="274.96" x2="421.70" y2="274.96" stroke="#111" stroke-width="0.9"/>
<line x1="405.30" y1="278.06" x2="421.70" y2="278.06" stroke="#111" stroke-width="0.9"/>
<line x1="405.30" y1="281.16" x2="421.70" y2="281.16" stroke="#111" stroke-width="0.9"/>
<line x1="405.30" y1="284.26" x2="421.70" y2="284.26" stroke="#111" stroke-width="0.9"/>
<line x1="405.30" y1="287.36" x2="421.70" y2="287.36" stroke="#111" stroke-width="0.9"/>
<line x1="405.30" y1="290.46" x2="421.70" y2="290.46" stroke="#111" stroke-width="0.9"/>
<line x1="405.30" y1="293.56" x2="421.70" y2="293.56" stroke="#111" stroke-width="0.9"/>
<line x1="405.30" y1="296.66" x2="421.70" y2="296.66" stroke="#111" stroke-width="0.9"/>
<line x1="405.30" y1="299.76" x2="421.70" y2="299.76" stroke="#111" stroke-width="0.9"/>
<line x1="413.50" y1="237.30" x2="413.50" y2="247.30" stroke="#111" stroke-width="0.9"/>
<line x1="411.00" y1="237.30" x2="416.00" y2="237.30" stroke="#111" stroke-width="0.9"/>
<line x1="411.00" y1="247.30" x2="416.00" y2="247.30" stroke="#111" stroke-width="0.9"/>
<text x="394.48" y="215.41" font-size="11.89" font-weight="bold" fill="#1e1e1e">*</text>
<text transform="translate(316.80,294.41) rotate(-90)" x="0" y="0" font-size="10.72" textLength="103.28" lengthAdjust="spacingAndGlyphs" fill="#1e1e1e">FoxP3+Treg Cells (x10</text>
<text transform="translate(309.94,193.14) rotate(-90)" x="0" y="0" font-size="5.92" textLength="4.90" lengthAdjust="spacingAndGlyphs" fill="#1e1e1e">6</text>
<text transform="translate(316.31,189.48) rotate(-90)" x="0" y="0" font-size="9.95" textLength="5.40" lengthAdjust="spacingAndGlyphs" fill="#1e1e1e">)</text>
<rect x="358.20" y="171.90" width="4.60" height="4.60" fill="#fff" stroke="#111" stroke-width="0.8"/>
<rect x="358.20" y="178.40" width="4.60" height="4.60" fill="#8c8c8c" stroke="#111" stroke-width="0.8"/>
<rect x="358.20" y="186.50" width="4.60" height="4.60" fill="#0a0a0a" stroke="#111" stroke-width="0.8"/>
<rect x="358.20" y="193.90" width="4.60" height="4.60" fill="#fff" stroke="#111" stroke-width="0.8"/>
<line x1="358.20" y1="196.20" x2="362.80" y2="196.20" stroke="#111" stroke-width="0.7"/>
<text x="365.36" y="175.80" font-size="8.26" textLength="42.24" lengthAdjust="spacingAndGlyphs" fill="#1e1e1e">WT DOX(+)</text>
<text x="365.74" y="183.20" font-size="8.26" textLength="31.92" lengthAdjust="spacingAndGlyphs" fill="#1e1e1e">Tg -DOX</text>
<text x="365.74" y="191.10" font-size="8.70" textLength="33.53" lengthAdjust="spacingAndGlyphs" fill="#1e1e1e">Tg +DOX</text>
<text x="365.26" y="198.50" font-size="8.70" textLength="39.63" lengthAdjust="spacingAndGlyphs" fill="#1e1e1e">DOX on/off</text>
<text x="7.15" y="334.20" font-size="13.04" textLength="9.39" lengthAdjust="spacingAndGlyphs" fill="#1e1e1e" font-weight="bold">D</text>
<text x="44.40" y="343.80" font-size="9.66" textLength="40.11" lengthAdjust="spacingAndGlyphs" fill="#1e1e1e">Anti-CD3</text>
<text x="43.90" y="354.80" font-size="9.58" textLength="31.41" lengthAdjust="spacingAndGlyphs" fill="#1e1e1e">+CD28</text>
<text x="87.31" y="353.10" font-size="10.43" textLength="39.64" lengthAdjust="spacingAndGlyphs" fill="#1e1e1e">No Treg</text>
<text x="181.94" y="352.70" font-size="11.16" textLength="42.49" lengthAdjust="spacingAndGlyphs" fill="#1e1e1e">WT Treg</text>
<text x="290.10" y="352.70" font-size="11.16" textLength="52.91" lengthAdjust="spacingAndGlyphs" fill="#1e1e1e">-DOX Treg</text>
<text x="395.86" y="352.70" font-size="11.16" textLength="54.75" lengthAdjust="spacingAndGlyphs" fill="#1e1e1e">+DOX Treg</text>
<text x="23.75" y="360.92" font-size="7.61" textLength="8.53" lengthAdjust="spacingAndGlyphs" fill="#1e1e1e">80</text>
<text x="27.23" y="408.52" font-size="7.89" textLength="5.10" lengthAdjust="spacingAndGlyphs" fill="#1e1e1e">0</text>
<rect x="39.20" y="358.80" width="99.00" height="49.30" fill="none" stroke="#111" stroke-width="1.2"/>
<line x1="63.95" y1="408.10" x2="63.95" y2="409.70" stroke="#111" stroke-width="0.8"/>
<line x1="88.70" y1="408.10" x2="88.70" y2="409.70" stroke="#111" stroke-width="0.8"/>
<line x1="113.45" y1="408.10" x2="113.45" y2="409.70" stroke="#111" stroke-width="0.8"/>
<line x1="39.20" y1="398.40" x2="41.00" y2="398.40" stroke="#111" stroke-width="0.7"/>
<line x1="39.20" y1="388.70" x2="41.00" y2="388.70" stroke="#111" stroke-width="0.7"/>
<line x1="39.20" y1="379.00" x2="41.00" y2="379.00" stroke="#111" stroke-width="0.7"/>
<line x1="39.20" y1="369.30" x2="41.00" y2="369.30" stroke="#111" stroke-width="0.7"/>
<line x1="39.20" y1="403.25" x2="40.20" y2="403.25" stroke="#111" stroke-width="0.5"/>
<line x1="39.20" y1="393.55" x2="40.20" y2="393.55" stroke="#111" stroke-width="0.5"/>
<line x1="39.20" y1="383.85" x2="40.20" y2="383.85" stroke="#111" stroke-width="0.5"/>
<line x1="39.20" y1="374.15" x2="40.20" y2="374.15" stroke="#111" stroke-width="0.5"/>
<line x1="39.20" y1="364.45" x2="40.20" y2="364.45" stroke="#111" stroke-width="0.5"/>
<rect x="153.80" y="360.60" width="98.20" height="48.20" fill="none" stroke="#111" stroke-width="1.2"/>
<line x1="178.35" y1="408.80" x2="178.35" y2="410.40" stroke="#111" stroke-width="0.8"/>
<line x1="202.90" y1="408.80" x2="202.90" y2="410.40" stroke="#111" stroke-width="0.8"/>
<line x1="227.45" y1="408.80" x2="227.45" y2="410.40" stroke="#111" stroke-width="0.8"/>
<line x1="153.80" y1="399.10" x2="155.60" y2="399.10" stroke="#111" stroke-width="0.7"/>
<line x1="153.80" y1="389.40" x2="155.60" y2="389.40" stroke="#111" stroke-width="0.7"/>
<line x1="153.80" y1="379.70" x2="155.60" y2="379.70" stroke="#111" stroke-width="0.7"/>
<line x1="153.80" y1="370.00" x2="155.60" y2="370.00" stroke="#111" stroke-width="0.7"/>
<line x1="153.80" y1="403.95" x2="154.80" y2="403.95" stroke="#111" stroke-width="0.5"/>
<line x1="153.80" y1="394.25" x2="154.80" y2="394.25" stroke="#111" stroke-width="0.5"/>
<line x1="153.80" y1="384.55" x2="154.80" y2="384.55" stroke="#111" stroke-width="0.5"/>
<line x1="153.80" y1="374.85" x2="154.80" y2="374.85" stroke="#111" stroke-width="0.5"/>
<line x1="153.80" y1="365.15" x2="154.80" y2="365.15" stroke="#111" stroke-width="0.5"/>
<rect x="267.00" y="360.60" width="99.40" height="48.40" fill="none" stroke="#111" stroke-width="1.2"/>
<line x1="291.85" y1="409.00" x2="291.85" y2="410.60" stroke="#111" stroke-width="0.8"/>
<line x1="316.70" y1="409.00" x2="316.70" y2="410.60" stroke="#111" stroke-width="0.8"/>
<line x1="341.55" y1="409.00" x2="341.55" y2="410.60" stroke="#111" stroke-width="0.8"/>
<line x1="267.00" y1="399.30" x2="268.80" y2="399.30" stroke="#111" stroke-width="0.7"/>
<line x1="267.00" y1="389.60" x2="268.80" y2="389.60" stroke="#111" stroke-width="0.7"/>
<line x1="267.00" y1="379.90" x2="268.80" y2="379.90" stroke="#111" stroke-width="0.7"/>
<line x1="267.00" y1="370.20" x2="268.80" y2="370.20" stroke="#111" stroke-width="0.7"/>
<line x1="267.00" y1="404.15" x2="268.00" y2="404.15" stroke="#111" stroke-width="0.5"/>
<line x1="267.00" y1="394.45" x2="268.00" y2="394.45" stroke="#111" stroke-width="0.5"/>
<line x1="267.00" y1="384.75" x2="268.00" y2="384.75" stroke="#111" stroke-width="0.5"/>
<line x1="267.00" y1="375.05" x2="268.00" y2="375.05" stroke="#111" stroke-width="0.5"/>
<line x1="267.00" y1="365.35" x2="268.00" y2="365.35" stroke="#111" stroke-width="0.5"/>
<rect x="379.00" y="360.80" width="93.00" height="48.20" fill="none" stroke="#111" stroke-width="1.2"/>
<line x1="402.25" y1="409.00" x2="402.25" y2="410.60" stroke="#111" stroke-width="0.8"/>
<line x1="425.50" y1="409.00" x2="425.50" y2="410.60" stroke="#111" stroke-width="0.8"/>
<line x1="448.75" y1="409.00" x2="448.75" y2="410.60" stroke="#111" stroke-width="0.8"/>
<line x1="379.00" y1="399.30" x2="380.80" y2="399.30" stroke="#111" stroke-width="0.7"/>
<line x1="379.00" y1="389.60" x2="380.80" y2="389.60" stroke="#111" stroke-width="0.7"/>
<line x1="379.00" y1="379.90" x2="380.80" y2="379.90" stroke="#111" stroke-width="0.7"/>
<line x1="379.00" y1="370.20" x2="380.80" y2="370.20" stroke="#111" stroke-width="0.7"/>
<line x1="379.00" y1="404.15" x2="380.00" y2="404.15" stroke="#111" stroke-width="0.5"/>
<line x1="379.00" y1="394.45" x2="380.00" y2="394.45" stroke="#111" stroke-width="0.5"/>
<line x1="379.00" y1="384.75" x2="380.00" y2="384.75" stroke="#111" stroke-width="0.5"/>
<line x1="379.00" y1="375.05" x2="380.00" y2="375.05" stroke="#111" stroke-width="0.5"/>
<line x1="379.00" y1="365.35" x2="380.00" y2="365.35" stroke="#111" stroke-width="0.5"/>
<path d="M39.5 407.9 L50.0 407.4 L60.0 406.3 L65.0 405.0 L72.5 402.5 L75.0 398.0 L78.1 391.3 L79.8 395.0 L81.9 382.5 L83.5 368.8 L85.0 373.8 L86.9 396.2 L88.8 385.0 L90.6 366.9 L92.5 375.0 L95.0 395.6 L96.9 385.0 L98.5 375.0 L100.2 381.9 L102.5 398.8 L105.0 387.5 L106.9 390.0 L109.4 400.0 L111.2 396.2 L113.8 394.4 L116.2 398.8 L117.5 403.1 L120.0 405.6 L122.5 407.5 L125.0 408.0 L137.5 408.0" fill="none" stroke="#333" stroke-width="0.9" stroke-linejoin="round"/>
<path d="M154.5 408.4 L180.0 408.4 L190.4 408.2 L194.4 407.4 L198.5 406.1 L201.2 406.6 L203.8 405.3 L206.5 403.4 L208.6 402.3 L211.2 403.9 L213.3 406.1 L215.3 404.3 L218.6 396.9 L220.7 404.3 L222.7 405.3 L224.7 402.3 L227.4 390.2 L230.1 383.5 L232.1 387.5 L234.1 398.3 L236.1 401.2 L238.2 394.9 L239.5 392.2 L241.5 398.9 L243.5 405.0 L246.2 406.1 L249.6 406.6 L251.5 407.2" fill="none" stroke="#333" stroke-width="0.9" stroke-linejoin="round"/>
<path d="M267.5 408.6 L295.0 408.6 L300.8 408.6 L303.7 407.5 L306.5 408.2 L309.4 408.5 L312.3 407.0 L315.2 406.0 L318.1 407.0 L321.7 402.4 L323.9 403.9 L326.7 407.0 L329.6 403.1 L332.5 401.3 L334.7 402.4 L336.1 405.3 L338.3 399.5 L339.7 401.7 L343.3 392.3 L346.2 398.1 L349.1 401.0 L352.7 398.1 L355.6 402.4 L358.5 405.6 L361.4 406.0 L365.0 407.0 L366.0 407.5" fill="none" stroke="#333" stroke-width="0.9" stroke-linejoin="round"/>
<path d="M379.5 408.6 L405.0 408.6 L413.1 408.4 L417.1 407.6 L419.8 408.4 L423.2 406.2 L425.9 407.3 L428.6 404.9 L431.2 403.5 L433.3 406.6 L435.3 403.9 L437.3 392.5 L439.3 389.5 L440.7 392.5 L442.0 401.9 L444.0 404.9 L446.7 404.6 L449.4 406.6 L451.4 403.9 L454.1 398.6 L456.8 395.2 L458.8 391.4 L460.9 389.8 L462.9 389.5 L464.9 393.8 L466.9 399.2 L468.9 403.3 L471.0 407.3 L471.6 408.4" fill="none" stroke="#333" stroke-width="0.9" stroke-linejoin="round"/>
<text x="378.03" y="418.53" font-size="6.90" textLength="7.01" lengthAdjust="spacingAndGlyphs" fill="#1e1e1e">10</text>
<text x="384.6" y="415.6" font-size="4" textLength="2.4" lengthAdjust="spacingAndGlyphs" fill="#1e1e1e">0</text>
<text x="400.13" y="418.53" font-size="6.90" textLength="7.01" lengthAdjust="spacingAndGlyphs" fill="#1e1e1e">10</text>
<text x="406.9" y="415.6" font-size="4" textLength="1.8" lengthAdjust="spacingAndGlyphs" fill="#1e1e1e">1</text>
<text x="423.74" y="418.53" font-size="6.90" textLength="6.90" lengthAdjust="spacingAndGlyphs" fill="#1e1e1e">10</text>
<text x="430.2" y="415.6" font-size="4" textLength="1.9" lengthAdjust="spacingAndGlyphs" fill="#1e1e1e">2</text>
<text x="445.30" y="418.53" font-size="6.90" textLength="7.45" lengthAdjust="spacingAndGlyphs" fill="#1e1e1e">10</text>
<text x="452.7" y="415.6" font-size="4" textLength="1.9" lengthAdjust="spacingAndGlyphs" fill="#1e1e1e">3</text>
<text x="464.34" y="418.53" font-size="6.90" textLength="6.90" lengthAdjust="spacingAndGlyphs" fill="#1e1e1e">10</text>
<text x="471.3" y="415.6" font-size="4" textLength="2.4" lengthAdjust="spacingAndGlyphs" fill="#1e1e1e">4</text>
<line x1="47.50" y1="427.50" x2="212.00" y2="427.50" stroke="#111" stroke-width="1.1"/>
<path d="M211 424.8 L217 427.5 L211 430.2Z" fill="#111"/>
<text x="229.00" y="431.50" font-size="10.42" textLength="26.52" lengthAdjust="spacingAndGlyphs" fill="#1e1e1e">CFSE</text>
<text x="2.05" y="447.60" font-size="13.48" textLength="7.67" lengthAdjust="spacingAndGlyphs" fill="#1e1e1e" font-weight="bold">E</text>
<g clip-path="url(#c19)"><g filter="url(#sp)"><ellipse cx="56" cy="503" rx="6.5" ry="7.5" fill-opacity="0.85"/></g></g>
<g clip-path="url(#c20)"><g filter="url(#spt)"><ellipse cx="38" cy="504" rx="9" ry="7" fill-opacity="0.55"/><ellipse cx="56" cy="503" rx="10" ry="10" fill-opacity="0.3"/><ellipse cx="65" cy="482" rx="16" ry="5" fill-opacity="0.24" transform="rotate(-40 65 482)"/></g></g>
<g clip-path="url(#c21)"><g filter="url(#sp)"><ellipse cx="166.5" cy="478" rx="13" ry="5.5" fill-opacity="0.9" transform="rotate(-30 166.5 478)"/></g></g>
<g clip-path="url(#c22)"><g filter="url(#spt)"><ellipse cx="165" cy="479" rx="21" ry="9.5" fill-opacity="0.3" transform="rotate(-30 165 479)"/><ellipse cx="155" cy="497" rx="12" ry="8" fill-opacity="0.18"/></g></g>
<g clip-path="url(#c23)"><g filter="url(#sp)"><ellipse cx="70" cy="562.5" rx="10" ry="7" fill-opacity="0.75" transform="rotate(-20 70 562.5)"/></g></g>
<g clip-path="url(#c24)"><g filter="url(#spt)"><ellipse cx="55" cy="575" rx="22" ry="16" fill-opacity="0.3"/><ellipse cx="70" cy="562" rx="14" ry="10" fill-opacity="0.25"/></g></g>
<g clip-path="url(#c25)"><g filter="url(#sp)"><ellipse cx="145" cy="586" rx="11" ry="8" fill-opacity="0.8"/><ellipse cx="163" cy="586" rx="14" ry="7" fill-opacity="0.35"/></g></g>
<g clip-path="url(#c26)"><g filter="url(#spt)"><ellipse cx="155" cy="586" rx="22" ry="10" fill-opacity="0.3"/><ellipse cx="162" cy="565" rx="14" ry="5" fill-opacity="0.2" transform="rotate(-35 162 565)"/></g></g>
<rect x="27.30" y="463.10" width="91.10" height="49.10" fill="none" stroke="#111" stroke-width="1.6"/>
<line x1="47.60" y1="463.10" x2="47.60" y2="512.20" stroke="#111" stroke-width="1.1"/>
<line x1="27.30" y1="491.30" x2="118.40" y2="491.30" stroke="#111" stroke-width="1.1"/>
<line x1="25.70" y1="499.93" x2="27.30" y2="499.93" stroke="#111" stroke-width="0.9"/>
<line x1="25.70" y1="487.65" x2="27.30" y2="487.65" stroke="#111" stroke-width="0.9"/>
<line x1="25.70" y1="475.38" x2="27.30" y2="475.38" stroke="#111" stroke-width="0.9"/>
<line x1="45.52" y1="512.20" x2="45.52" y2="513.80" stroke="#111" stroke-width="0.9"/>
<line x1="63.74" y1="512.20" x2="63.74" y2="513.80" stroke="#111" stroke-width="0.9"/>
<line x1="81.96" y1="512.20" x2="81.96" y2="513.80" stroke="#111" stroke-width="0.9"/>
<line x1="100.18" y1="512.20" x2="100.18" y2="513.80" stroke="#111" stroke-width="0.9"/>
<rect x="124.40" y="463.20" width="91.10" height="49.10" fill="none" stroke="#111" stroke-width="1.6"/>
<line x1="144.60" y1="463.20" x2="144.60" y2="512.30" stroke="#111" stroke-width="1.1"/>
<line x1="124.40" y1="491.30" x2="215.50" y2="491.30" stroke="#111" stroke-width="1.1"/>
<line x1="122.80" y1="500.02" x2="124.40" y2="500.02" stroke="#111" stroke-width="0.9"/>
<line x1="122.80" y1="487.75" x2="124.40" y2="487.75" stroke="#111" stroke-width="0.9"/>
<line x1="122.80" y1="475.47" x2="124.40" y2="475.47" stroke="#111" stroke-width="0.9"/>
<line x1="142.62" y1="512.30" x2="142.62" y2="513.90" stroke="#111" stroke-width="0.9"/>
<line x1="160.84" y1="512.30" x2="160.84" y2="513.90" stroke="#111" stroke-width="0.9"/>
<line x1="179.06" y1="512.30" x2="179.06" y2="513.90" stroke="#111" stroke-width="0.9"/>
<line x1="197.28" y1="512.30" x2="197.28" y2="513.90" stroke="#111" stroke-width="0.9"/>
<rect x="27.30" y="547.40" width="91.10" height="47.80" fill="none" stroke="#111" stroke-width="1.6"/>
<line x1="47.60" y1="547.40" x2="47.60" y2="595.20" stroke="#111" stroke-width="1.1"/>
<line x1="27.30" y1="575.60" x2="118.40" y2="575.60" stroke="#111" stroke-width="1.1"/>
<line x1="25.70" y1="583.25" x2="27.30" y2="583.25" stroke="#111" stroke-width="0.9"/>
<line x1="25.70" y1="571.30" x2="27.30" y2="571.30" stroke="#111" stroke-width="0.9"/>
<line x1="25.70" y1="559.35" x2="27.30" y2="559.35" stroke="#111" stroke-width="0.9"/>
<line x1="45.52" y1="595.20" x2="45.52" y2="596.80" stroke="#111" stroke-width="0.9"/>
<line x1="63.74" y1="595.20" x2="63.74" y2="596.80" stroke="#111" stroke-width="0.9"/>
<line x1="81.96" y1="595.20" x2="81.96" y2="596.80" stroke="#111" stroke-width="0.9"/>
<line x1="100.18" y1="595.20" x2="100.18" y2="596.80" stroke="#111" stroke-width="0.9"/>
<rect x="124.20" y="547.30" width="91.10" height="47.40" fill="none" stroke="#111" stroke-width="1.6"/>
<line x1="144.60" y1="547.30" x2="144.60" y2="594.70" stroke="#111" stroke-width="1.1"/>
<line x1="124.20" y1="574.70" x2="215.30" y2="574.70" stroke="#111" stroke-width="1.1"/>
<line x1="122.60" y1="582.85" x2="124.20" y2="582.85" stroke="#111" stroke-width="0.9"/>
<line x1="122.60" y1="571.00" x2="124.20" y2="571.00" stroke="#111" stroke-width="0.9"/>
<line x1="122.60" y1="559.15" x2="124.20" y2="559.15" stroke="#111" stroke-width="0.9"/>
<line x1="142.42" y1="594.70" x2="142.42" y2="596.30" stroke="#111" stroke-width="0.9"/>
<line x1="160.64" y1="594.70" x2="160.64" y2="596.30" stroke="#111" stroke-width="0.9"/>
<line x1="178.86" y1="594.70" x2="178.86" y2="596.30" stroke="#111" stroke-width="0.9"/>
<line x1="197.08" y1="594.70" x2="197.08" y2="596.30" stroke="#111" stroke-width="0.9"/>
<text x="48.25" y="458.72" font-size="8.03" textLength="28.95" lengthAdjust="spacingAndGlyphs" fill="#1e1e1e">Medium</text>
<text x="146.05" y="455.61" font-size="8.71" textLength="55.73" lengthAdjust="spacingAndGlyphs" fill="#1e1e1e">Anti-CD3+CD28</text>
<text x="31.98" y="474.12" font-size="8.31" textLength="23.01" lengthAdjust="spacingAndGlyphs" fill="#1e1e1e">0.09%</text>
<text x="90.45" y="474.16" font-size="8.37" textLength="22.53" lengthAdjust="spacingAndGlyphs" fill="#1e1e1e">1.27%</text>
<text x="81.90" y="512.12" font-size="8.31" textLength="27.31" lengthAdjust="spacingAndGlyphs" fill="#1e1e1e">73.31%</text>
<text x="128.90" y="474.62" font-size="8.31" textLength="22.84" lengthAdjust="spacingAndGlyphs" fill="#1e1e1e">2.07%</text>
<text x="181.95" y="482.12" font-size="8.31" textLength="26.75" lengthAdjust="spacingAndGlyphs" fill="#1e1e1e">90.07%</text>
<text x="181.90" y="511.12" font-size="8.31" textLength="22.35" lengthAdjust="spacingAndGlyphs" fill="#1e1e1e">6.11%</text>
<text x="41.57" y="531.62" font-size="8.31" textLength="47.80" lengthAdjust="spacingAndGlyphs" fill="#1e1e1e">Inact MMP12</text>
<text x="42.30" y="540.61" font-size="8.71" textLength="56.99" lengthAdjust="spacingAndGlyphs" fill="#1e1e1e">Anti-CD3+CD28</text>
<text x="139.30" y="532.32" font-size="8.31" textLength="41.32" lengthAdjust="spacingAndGlyphs" fill="#1e1e1e">Act MMP12</text>
<text x="139.30" y="541.61" font-size="8.71" textLength="56.99" lengthAdjust="spacingAndGlyphs" fill="#1e1e1e">Anti-CD3+CD28</text>
<text x="31.98" y="557.82" font-size="8.31" textLength="23.01" lengthAdjust="spacingAndGlyphs" fill="#1e1e1e">5.37%</text>
<text x="88.14" y="557.82" font-size="8.31" textLength="27.82" lengthAdjust="spacingAndGlyphs" fill="#1e1e1e">69.22%</text>
<text x="81.69" y="593.32" font-size="8.31" textLength="27.52" lengthAdjust="spacingAndGlyphs" fill="#1e1e1e">16.54%</text>
<text x="128.98" y="558.32" font-size="8.31" textLength="22.76" lengthAdjust="spacingAndGlyphs" fill="#1e1e1e">0.09%</text>
<text x="181.64" y="558.32" font-size="8.31" textLength="22.59" lengthAdjust="spacingAndGlyphs" fill="#1e1e1e">4.04%</text>
<text x="181.40" y="593.32" font-size="8.31" textLength="27.31" lengthAdjust="spacingAndGlyphs" fill="#1e1e1e">68.63%</text>
<text transform="translate(12.11,587.31) rotate(-90)" x="0" y="0" font-size="8.87" textLength="20.89" lengthAdjust="spacingAndGlyphs" fill="#1e1e1e">CD69</text>
<text x="124.90" y="614.12" font-size="8.31" textLength="16.05" lengthAdjust="spacingAndGlyphs" fill="#1e1e1e">CD4</text>
<line x1="18.30" y1="603.60" x2="18.30" y2="554.75" stroke="#111" stroke-width="1.3"/>
<line x1="18.30" y1="603.00" x2="102.80" y2="603.00" stroke="#111" stroke-width="1.3"/>
<path d="M15.4 556.2 L18.3 550.8 L21.2 556.2Z" fill="#111"/>
<path d="M101.3 600.1 L106.8 603.0 L101.3 605.9Z" fill="#111"/>
<text x="236.00" y="459.10" font-size="13.48" textLength="7.55" lengthAdjust="spacingAndGlyphs" fill="#1e1e1e" font-weight="bold">F</text>
<text x="274.12" y="590.12" font-size="8.50" text-anchor="end" textLength="4.49" lengthAdjust="spacingAndGlyphs" fill="#1e1e1e">0</text>
<line x1="277.70" y1="587.10" x2="280.30" y2="587.10" stroke="#111" stroke-width="0.9"/>
<text x="274.12" y="575.52" font-size="8.50" text-anchor="end" textLength="13.47" lengthAdjust="spacingAndGlyphs" fill="#1e1e1e">100</text>
<line x1="277.70" y1="572.50" x2="280.30" y2="572.50" stroke="#111" stroke-width="0.9"/>
<text x="274.12" y="560.92" font-size="8.50" text-anchor="end" textLength="13.47" lengthAdjust="spacingAndGlyphs" fill="#1e1e1e">200</text>
<line x1="277.70" y1="557.90" x2="280.30" y2="557.90" stroke="#111" stroke-width="0.9"/>
<text x="274.12" y="546.32" font-size="8.50" text-anchor="end" textLength="13.47" lengthAdjust="spacingAndGlyphs" fill="#1e1e1e">300</text>
<line x1="277.70" y1="543.30" x2="280.30" y2="543.30" stroke="#111" stroke-width="0.9"/>
<text x="274.12" y="531.72" font-size="8.50" text-anchor="end" textLength="13.47" lengthAdjust="spacingAndGlyphs" fill="#1e1e1e">400</text>
<line x1="277.70" y1="528.70" x2="280.30" y2="528.70" stroke="#111" stroke-width="0.9"/>
<text x="274.12" y="517.12" font-size="8.50" text-anchor="end" textLength="13.47" lengthAdjust="spacingAndGlyphs" fill="#1e1e1e">500</text>
<line x1="277.70" y1="514.10" x2="280.30" y2="514.10" stroke="#111" stroke-width="0.9"/>
<text x="274.12" y="502.52" font-size="8.50" text-anchor="end" textLength="13.47" lengthAdjust="spacingAndGlyphs" fill="#1e1e1e">600</text>
<line x1="277.70" y1="499.50" x2="280.30" y2="499.50" stroke="#111" stroke-width="0.9"/>
<text x="274.12" y="487.92" font-size="8.50" text-anchor="end" textLength="13.47" lengthAdjust="spacingAndGlyphs" fill="#1e1e1e">700</text>
<line x1="277.70" y1="484.90" x2="280.30" y2="484.90" stroke="#111" stroke-width="0.9"/>
<line x1="280.30" y1="484.40" x2="280.30" y2="587.60" stroke="#111" stroke-width="1.0"/>
<line x1="280.30" y1="587.10" x2="330.60" y2="587.10" stroke="#111" stroke-width="1.0"/>
<rect x="287.40" y="584.33" width="9.60" height="2.77" fill="#fff" stroke="#111" stroke-width="0.8"/>
<rect x="297.00" y="503.73" width="9.60" height="83.37" fill="#8c8c8c" stroke="#111" stroke-width="0.8"/>
<rect x="306.60" y="516.00" width="10.00" height="71.10" fill="#fff" stroke="#111" stroke-width="0.8"/>
<line x1="306.60" y1="517.83" x2="316.60" y2="517.83" stroke="#111" stroke-width="0.9"/>
<line x1="306.60" y1="520.88" x2="316.60" y2="520.88" stroke="#111" stroke-width="0.9"/>
<line x1="306.60" y1="523.93" x2="316.60" y2="523.93" stroke="#111" stroke-width="0.9"/>
<line x1="306.60" y1="526.98" x2="316.60" y2="526.98" stroke="#111" stroke-width="0.9"/>
<line x1="306.60" y1="530.03" x2="316.60" y2="530.03" stroke="#111" stroke-width="0.9"/>
<line x1="306.60" y1="533.08" x2="316.60" y2="533.08" stroke="#111" stroke-width="0.9"/>
<line x1="306.60" y1="536.13" x2="316.60" y2="536.13" stroke="#111" stroke-width="0.9"/>
<line x1="306.60" y1="539.18" x2="316.60" y2="539.18" stroke="#111" stroke-width="0.9"/>
<line x1="306.60" y1="542.23" x2="316.60" y2="542.23" stroke="#111" stroke-width="0.9"/>
<line x1="306.60" y1="545.28" x2="316.60" y2="545.28" stroke="#111" stroke-width="0.9"/>
<line x1="306.60" y1="548.33" x2="316.60" y2="548.33" stroke="#111" stroke-width="0.9"/>
<line x1="306.60" y1="551.38" x2="316.60" y2="551.38" stroke="#111" stroke-width="0.9"/>
<line x1="306.60" y1="554.43" x2="316.60" y2="554.43" stroke="#111" stroke-width="0.9"/>
<line x1="306.60" y1="557.48" x2="316.60" y2="557.48" stroke="#111" stroke-width="0.9"/>
<line x1="306.60" y1="560.53" x2="316.60" y2="560.53" stroke="#111" stroke-width="0.9"/>
<line x1="306.60" y1="563.58" x2="316.60" y2="563.58" stroke="#111" stroke-width="0.9"/>
<line x1="306.60" y1="566.63" x2="316.60" y2="566.63" stroke="#111" stroke-width="0.9"/>
<line x1="306.60" y1="569.68" x2="316.60" y2="569.68" stroke="#111" stroke-width="0.9"/>
<line x1="306.60" y1="572.73" x2="316.60" y2="572.73" stroke="#111" stroke-width="0.9"/>
<line x1="306.60" y1="575.78" x2="316.60" y2="575.78" stroke="#111" stroke-width="0.9"/>
<line x1="306.60" y1="578.83" x2="316.60" y2="578.83" stroke="#111" stroke-width="0.9"/>
<line x1="306.60" y1="581.88" x2="316.60" y2="581.88" stroke="#111" stroke-width="0.9"/>
<line x1="306.60" y1="584.93" x2="316.60" y2="584.93" stroke="#111" stroke-width="0.9"/>
<rect x="316.60" y="573.96" width="9.40" height="13.14" fill="#0a0a0a" stroke="#111" stroke-width="0.8"/>
<line x1="292.20" y1="585.35" x2="292.20" y2="583.30" stroke="#111" stroke-width="0.8"/>
<line x1="290.55" y1="585.35" x2="293.85" y2="585.35" stroke="#111" stroke-width="0.8"/>
<line x1="290.55" y1="583.30" x2="293.85" y2="583.30" stroke="#111" stroke-width="0.8"/>
<line x1="301.80" y1="517.75" x2="301.80" y2="489.13" stroke="#111" stroke-width="0.8"/>
<line x1="300.15" y1="517.75" x2="303.45" y2="517.75" stroke="#111" stroke-width="0.8"/>
<line x1="300.15" y1="489.13" x2="303.45" y2="489.13" stroke="#111" stroke-width="0.8"/>
<line x1="311.60" y1="524.47" x2="311.60" y2="508.26" stroke="#111" stroke-width="0.8"/>
<line x1="309.95" y1="524.47" x2="313.25" y2="524.47" stroke="#111" stroke-width="0.8"/>
<line x1="309.95" y1="508.26" x2="313.25" y2="508.26" stroke="#111" stroke-width="0.8"/>
<line x1="321.30" y1="575.42" x2="321.30" y2="571.62" stroke="#111" stroke-width="0.8"/>
<line x1="319.65" y1="575.42" x2="322.95" y2="575.42" stroke="#111" stroke-width="0.8"/>
<line x1="319.65" y1="571.62" x2="322.95" y2="571.62" stroke="#111" stroke-width="0.8"/>
<text x="358.53" y="590.65" font-size="8.30" text-anchor="end" textLength="4.52" lengthAdjust="spacingAndGlyphs" fill="#1e1e1e">0</text>
<line x1="362.90" y1="587.70" x2="365.50" y2="587.70" stroke="#111" stroke-width="0.9"/>
<text x="358.53" y="576.48" font-size="8.30" text-anchor="end" textLength="13.57" lengthAdjust="spacingAndGlyphs" fill="#1e1e1e">100</text>
<line x1="362.90" y1="573.53" x2="365.50" y2="573.53" stroke="#111" stroke-width="0.9"/>
<text x="358.53" y="562.31" font-size="8.30" text-anchor="end" textLength="13.57" lengthAdjust="spacingAndGlyphs" fill="#1e1e1e">200</text>
<line x1="362.90" y1="559.36" x2="365.50" y2="559.36" stroke="#111" stroke-width="0.9"/>
<text x="358.53" y="548.14" font-size="8.30" text-anchor="end" textLength="13.57" lengthAdjust="spacingAndGlyphs" fill="#1e1e1e">300</text>
<line x1="362.90" y1="545.19" x2="365.50" y2="545.19" stroke="#111" stroke-width="0.9"/>
<text x="358.53" y="533.97" font-size="8.30" text-anchor="end" textLength="13.57" lengthAdjust="spacingAndGlyphs" fill="#1e1e1e">400</text>
<line x1="362.90" y1="531.02" x2="365.50" y2="531.02" stroke="#111" stroke-width="0.9"/>
<text x="358.53" y="519.80" font-size="8.30" text-anchor="end" textLength="13.57" lengthAdjust="spacingAndGlyphs" fill="#1e1e1e">500</text>
<line x1="362.90" y1="516.85" x2="365.50" y2="516.85" stroke="#111" stroke-width="0.9"/>
<text x="358.53" y="505.63" font-size="8.30" text-anchor="end" textLength="13.57" lengthAdjust="spacingAndGlyphs" fill="#1e1e1e">600</text>
<line x1="362.90" y1="502.68" x2="365.50" y2="502.68" stroke="#111" stroke-width="0.9"/>
<text x="358.53" y="491.46" font-size="8.30" text-anchor="end" textLength="13.57" lengthAdjust="spacingAndGlyphs" fill="#1e1e1e">700</text>
<line x1="362.90" y1="488.51" x2="365.50" y2="488.51" stroke="#111" stroke-width="0.9"/>
<text x="358.53" y="477.29" font-size="8.30" text-anchor="end" textLength="13.57" lengthAdjust="spacingAndGlyphs" fill="#1e1e1e">800</text>
<line x1="362.90" y1="474.34" x2="365.50" y2="474.34" stroke="#111" stroke-width="0.9"/>
<line x1="365.50" y1="473.84" x2="365.50" y2="588.20" stroke="#111" stroke-width="1.0"/>
<line x1="365.50" y1="587.70" x2="424.50" y2="587.70" stroke="#111" stroke-width="1.0"/>
<rect x="374.00" y="584.44" width="11.40" height="3.26" fill="#fff" stroke="#111" stroke-width="0.8"/>
<rect x="385.40" y="502.96" width="12.10" height="84.74" fill="#8c8c8c" stroke="#111" stroke-width="0.8"/>
<rect x="397.50" y="518.27" width="11.50" height="69.43" fill="#fff" stroke="#111" stroke-width="0.8"/>
<line x1="397.50" y1="520.10" x2="409.00" y2="520.10" stroke="#111" stroke-width="0.9"/>
<line x1="397.50" y1="523.15" x2="409.00" y2="523.15" stroke="#111" stroke-width="0.9"/>
<line x1="397.50" y1="526.20" x2="409.00" y2="526.20" stroke="#111" stroke-width="0.9"/>
<line x1="397.50" y1="529.25" x2="409.00" y2="529.25" stroke="#111" stroke-width="0.9"/>
<line x1="397.50" y1="532.30" x2="409.00" y2="532.30" stroke="#111" stroke-width="0.9"/>
<line x1="397.50" y1="535.35" x2="409.00" y2="535.35" stroke="#111" stroke-width="0.9"/>
<line x1="397.50" y1="538.40" x2="409.00" y2="538.40" stroke="#111" stroke-width="0.9"/>
<line x1="397.50" y1="541.45" x2="409.00" y2="541.45" stroke="#111" stroke-width="0.9"/>
<line x1="397.50" y1="544.50" x2="409.00" y2="544.50" stroke="#111" stroke-width="0.9"/>
<line x1="397.50" y1="547.55" x2="409.00" y2="547.55" stroke="#111" stroke-width="0.9"/>
<line x1="397.50" y1="550.60" x2="409.00" y2="550.60" stroke="#111" stroke-width="0.9"/>
<line x1="397.50" y1="553.65" x2="409.00" y2="553.65" stroke="#111" stroke-width="0.9"/>
<line x1="397.50" y1="556.70" x2="409.00" y2="556.70" stroke="#111" stroke-width="0.9"/>
<line x1="397.50" y1="559.75" x2="409.00" y2="559.75" stroke="#111" stroke-width="0.9"/>
<line x1="397.50" y1="562.80" x2="409.00" y2="562.80" stroke="#111" stroke-width="0.9"/>
<line x1="397.50" y1="565.85" x2="409.00" y2="565.85" stroke="#111" stroke-width="0.9"/>
<line x1="397.50" y1="568.90" x2="409.00" y2="568.90" stroke="#111" stroke-width="0.9"/>
<line x1="397.50" y1="571.95" x2="409.00" y2="571.95" stroke="#111" stroke-width="0.9"/>
<line x1="397.50" y1="575.00" x2="409.00" y2="575.00" stroke="#111" stroke-width="0.9"/>
<line x1="397.50" y1="578.05" x2="409.00" y2="578.05" stroke="#111" stroke-width="0.9"/>
<line x1="397.50" y1="581.10" x2="409.00" y2="581.10" stroke="#111" stroke-width="0.9"/>
<line x1="397.50" y1="584.15" x2="409.00" y2="584.15" stroke="#111" stroke-width="0.9"/>
<rect x="409.00" y="569.85" width="10.80" height="17.85" fill="#0a0a0a" stroke="#111" stroke-width="0.8"/>
<line x1="379.70" y1="585.29" x2="379.70" y2="583.59" stroke="#111" stroke-width="0.8"/>
<line x1="378.05" y1="585.29" x2="381.35" y2="585.29" stroke="#111" stroke-width="0.8"/>
<line x1="378.05" y1="583.59" x2="381.35" y2="583.59" stroke="#111" stroke-width="0.8"/>
<line x1="391.50" y1="513.73" x2="391.50" y2="492.48" stroke="#111" stroke-width="0.8"/>
<line x1="389.85" y1="513.73" x2="393.15" y2="513.73" stroke="#111" stroke-width="0.8"/>
<line x1="389.85" y1="492.48" x2="393.15" y2="492.48" stroke="#111" stroke-width="0.8"/>
<line x1="403.20" y1="536.26" x2="403.20" y2="500.13" stroke="#111" stroke-width="0.8"/>
<line x1="401.55" y1="536.26" x2="404.85" y2="536.26" stroke="#111" stroke-width="0.8"/>
<line x1="401.55" y1="500.13" x2="404.85" y2="500.13" stroke="#111" stroke-width="0.8"/>
<line x1="414.40" y1="572.11" x2="414.40" y2="565.74" stroke="#111" stroke-width="0.8"/>
<line x1="412.75" y1="572.11" x2="416.05" y2="572.11" stroke="#111" stroke-width="0.8"/>
<line x1="412.75" y1="565.74" x2="416.05" y2="565.74" stroke="#111" stroke-width="0.8"/>
<text x="452.75" y="587.91" font-size="6.80" text-anchor="end" textLength="3.52" lengthAdjust="spacingAndGlyphs" fill="#1e1e1e">0</text>
<line x1="455.80" y1="585.50" x2="458.40" y2="585.50" stroke="#111" stroke-width="0.9"/>
<text x="452.75" y="572.71" font-size="6.80" text-anchor="end" textLength="10.55" lengthAdjust="spacingAndGlyphs" fill="#1e1e1e">200</text>
<line x1="455.80" y1="570.30" x2="458.40" y2="570.30" stroke="#111" stroke-width="0.9"/>
<text x="452.75" y="557.51" font-size="6.80" text-anchor="end" textLength="10.55" lengthAdjust="spacingAndGlyphs" fill="#1e1e1e">400</text>
<line x1="455.80" y1="555.10" x2="458.40" y2="555.10" stroke="#111" stroke-width="0.9"/>
<text x="452.75" y="542.31" font-size="6.80" text-anchor="end" textLength="10.55" lengthAdjust="spacingAndGlyphs" fill="#1e1e1e">600</text>
<line x1="455.80" y1="539.90" x2="458.40" y2="539.90" stroke="#111" stroke-width="0.9"/>
<text x="452.75" y="527.11" font-size="6.80" text-anchor="end" textLength="10.55" lengthAdjust="spacingAndGlyphs" fill="#1e1e1e">800</text>
<line x1="455.80" y1="524.70" x2="458.40" y2="524.70" stroke="#111" stroke-width="0.9"/>
<text x="452.75" y="511.91" font-size="6.80" text-anchor="end" textLength="14.07" lengthAdjust="spacingAndGlyphs" fill="#1e1e1e">1000</text>
<line x1="455.80" y1="509.50" x2="458.40" y2="509.50" stroke="#111" stroke-width="0.9"/>
<text x="452.75" y="496.71" font-size="6.80" text-anchor="end" textLength="14.07" lengthAdjust="spacingAndGlyphs" fill="#1e1e1e">1200</text>
<line x1="455.80" y1="494.30" x2="458.40" y2="494.30" stroke="#111" stroke-width="0.9"/>
<text x="452.75" y="481.51" font-size="6.80" text-anchor="end" textLength="14.07" lengthAdjust="spacingAndGlyphs" fill="#1e1e1e">1400</text>
<line x1="455.80" y1="479.10" x2="458.40" y2="479.10" stroke="#111" stroke-width="0.9"/>
<line x1="458.40" y1="478.60" x2="458.40" y2="586.00" stroke="#111" stroke-width="1.0"/>
<line x1="458.40" y1="585.50" x2="514.00" y2="585.50" stroke="#111" stroke-width="1.0"/>
<rect x="466.30" y="583.83" width="7.30" height="1.67" fill="#fff" stroke="#111" stroke-width="0.8"/>
<rect x="477.30" y="508.13" width="10.90" height="77.37" fill="#8c8c8c" stroke="#111" stroke-width="0.8"/>
<rect x="488.20" y="517.18" width="10.50" height="68.32" fill="#fff" stroke="#111" stroke-width="0.8"/>
<line x1="488.20" y1="519.01" x2="498.70" y2="519.01" stroke="#111" stroke-width="0.9"/>
<line x1="488.20" y1="522.06" x2="498.70" y2="522.06" stroke="#111" stroke-width="0.9"/>
<line x1="488.20" y1="525.11" x2="498.70" y2="525.11" stroke="#111" stroke-width="0.9"/>
<line x1="488.20" y1="528.16" x2="498.70" y2="528.16" stroke="#111" stroke-width="0.9"/>
<line x1="488.20" y1="531.21" x2="498.70" y2="531.21" stroke="#111" stroke-width="0.9"/>
<line x1="488.20" y1="534.26" x2="498.70" y2="534.26" stroke="#111" stroke-width="0.9"/>
<line x1="488.20" y1="537.31" x2="498.70" y2="537.31" stroke="#111" stroke-width="0.9"/>
<line x1="488.20" y1="540.36" x2="498.70" y2="540.36" stroke="#111" stroke-width="0.9"/>
<line x1="488.20" y1="543.41" x2="498.70" y2="543.41" stroke="#111" stroke-width="0.9"/>
<line x1="488.20" y1="546.46" x2="498.70" y2="546.46" stroke="#111" stroke-width="0.9"/>
<line x1="488.20" y1="549.51" x2="498.70" y2="549.51" stroke="#111" stroke-width="0.9"/>
<line x1="488.20" y1="552.56" x2="498.70" y2="552.56" stroke="#111" stroke-width="0.9"/>
<line x1="488.20" y1="555.61" x2="498.70" y2="555.61" stroke="#111" stroke-width="0.9"/>
<line x1="488.20" y1="558.66" x2="498.70" y2="558.66" stroke="#111" stroke-width="0.9"/>
<line x1="488.20" y1="561.71" x2="498.70" y2="561.71" stroke="#111" stroke-width="0.9"/>
<line x1="488.20" y1="564.76" x2="498.70" y2="564.76" stroke="#111" stroke-width="0.9"/>
<line x1="488.20" y1="567.81" x2="498.70" y2="567.81" stroke="#111" stroke-width="0.9"/>
<line x1="488.20" y1="570.86" x2="498.70" y2="570.86" stroke="#111" stroke-width="0.9"/>
<line x1="488.20" y1="573.91" x2="498.70" y2="573.91" stroke="#111" stroke-width="0.9"/>
<line x1="488.20" y1="576.96" x2="498.70" y2="576.96" stroke="#111" stroke-width="0.9"/>
<line x1="488.20" y1="580.01" x2="498.70" y2="580.01" stroke="#111" stroke-width="0.9"/>
<line x1="488.20" y1="583.06" x2="498.70" y2="583.06" stroke="#111" stroke-width="0.9"/>
<rect x="498.70" y="556.77" width="10.00" height="28.73" fill="#0a0a0a" stroke="#111" stroke-width="0.8"/>
<line x1="469.90" y1="584.44" x2="469.90" y2="583.22" stroke="#111" stroke-width="0.8"/>
<line x1="468.25" y1="584.44" x2="471.55" y2="584.44" stroke="#111" stroke-width="0.8"/>
<line x1="468.25" y1="583.22" x2="471.55" y2="583.22" stroke="#111" stroke-width="0.8"/>
<line x1="482.70" y1="518.39" x2="482.70" y2="497.87" stroke="#111" stroke-width="0.8"/>
<line x1="481.05" y1="518.39" x2="484.35" y2="518.39" stroke="#111" stroke-width="0.8"/>
<line x1="481.05" y1="497.87" x2="484.35" y2="497.87" stroke="#111" stroke-width="0.8"/>
<line x1="493.40" y1="533.21" x2="493.40" y2="501.14" stroke="#111" stroke-width="0.8"/>
<line x1="491.75" y1="533.21" x2="495.05" y2="533.21" stroke="#111" stroke-width="0.8"/>
<line x1="491.75" y1="501.14" x2="495.05" y2="501.14" stroke="#111" stroke-width="0.8"/>
<line x1="503.70" y1="562.70" x2="503.70" y2="548.34" stroke="#111" stroke-width="0.8"/>
<line x1="502.05" y1="562.70" x2="505.35" y2="562.70" stroke="#111" stroke-width="0.8"/>
<line x1="502.05" y1="548.34" x2="505.35" y2="548.34" stroke="#111" stroke-width="0.8"/>
<text transform="translate(254.70,556.94) rotate(-90)" x="0" y="0" font-size="8.70" textLength="41.95" lengthAdjust="spacingAndGlyphs" fill="#1e1e1e">IL-2 (pg/ml)</text>
<text transform="translate(340.70,551.96) rotate(-90)" x="0" y="0" font-size="8.84" textLength="42.98" lengthAdjust="spacingAndGlyphs" fill="#1e1e1e">IL-4 (pg/ml)</text>
<text transform="translate(436.00,553.69) rotate(-90)" x="0" y="0" font-size="8.12" textLength="44.67" lengthAdjust="spacingAndGlyphs" fill="#1e1e1e">IFN-γ (pg/ml)</text>
<rect x="284.30" y="467.10" width="3.60" height="3.60" fill="#fff" stroke="#111" stroke-width="0.8"/>
<rect x="284.30" y="473.20" width="3.60" height="3.60" fill="#8c8c8c" stroke="#111" stroke-width="0.8"/>
<rect x="284.30" y="479.60" width="3.60" height="3.60" fill="#fff" stroke="#111" stroke-width="0.8"/>
<line x1="284.30" y1="481.40" x2="287.90" y2="481.40" stroke="#111" stroke-width="0.7"/>
<rect x="284.30" y="485.90" width="3.60" height="3.60" fill="#0a0a0a" stroke="#111" stroke-width="0.8"/>
<rect x="372.30" y="468.00" width="4.00" height="4.00" fill="#fff" stroke="#111" stroke-width="0.8"/>
<rect x="372.30" y="474.60" width="4.00" height="4.00" fill="#8c8c8c" stroke="#111" stroke-width="0.8"/>
<rect x="372.30" y="481.00" width="4.00" height="4.00" fill="#fff" stroke="#111" stroke-width="0.8"/>
<line x1="372.30" y1="483.00" x2="376.30" y2="483.00" stroke="#111" stroke-width="0.7"/>
<rect x="372.30" y="487.00" width="4.00" height="4.00" fill="#0a0a0a" stroke="#111" stroke-width="0.8"/>
<rect x="461.70" y="476.10" width="3.20" height="3.20" fill="#fff" stroke="#111" stroke-width="0.8"/>
<rect x="461.70" y="482.00" width="3.20" height="3.20" fill="#8c8c8c" stroke="#111" stroke-width="0.8"/>
<rect x="461.70" y="487.80" width="3.20" height="3.20" fill="#fff" stroke="#111" stroke-width="0.8"/>
<line x1="461.70" y1="489.40" x2="464.90" y2="489.40" stroke="#111" stroke-width="0.7"/>
<rect x="461.70" y="493.60" width="3.20" height="3.20" fill="#0a0a0a" stroke="#111" stroke-width="0.8"/>
<text x="288.86" y="470.90" font-size="6.96" textLength="13.55" lengthAdjust="spacingAndGlyphs" fill="#1e1e1e">PBS</text>
<text x="289.07" y="477.10" font-size="7.10" textLength="33.70" lengthAdjust="spacingAndGlyphs" fill="#1e1e1e">CD3+CD28</text>
<text x="288.84" y="483.40" font-size="7.39" textLength="36.37" lengthAdjust="spacingAndGlyphs" fill="#1e1e1e">Inact MMP12</text>
<text x="289.40" y="489.60" font-size="7.10" textLength="30.51" lengthAdjust="spacingAndGlyphs" fill="#1e1e1e">Act MMP12</text>
<text x="376.79" y="472.10" font-size="7.25" textLength="15.37" lengthAdjust="spacingAndGlyphs" fill="#1e1e1e">PBS</text>
<text x="377.05" y="478.50" font-size="7.54" textLength="35.63" lengthAdjust="spacingAndGlyphs" fill="#1e1e1e">CD3+CD28</text>
<text x="376.76" y="485.00" font-size="7.83" textLength="41.80" lengthAdjust="spacingAndGlyphs" fill="#1e1e1e">Inact MMP12</text>
<text x="377.40" y="491.00" font-size="7.54" textLength="36.37" lengthAdjust="spacingAndGlyphs" fill="#1e1e1e">Act MMP12</text>
<text x="465.44" y="479.30" font-size="6.09" textLength="14.09" lengthAdjust="spacingAndGlyphs" fill="#1e1e1e">PBS</text>
<text x="465.69" y="485.40" font-size="6.52" textLength="31.97" lengthAdjust="spacingAndGlyphs" fill="#1e1e1e">CD3+CD28</text>
<text x="465.42" y="491.20" font-size="7.10" textLength="38.11" lengthAdjust="spacingAndGlyphs" fill="#1e1e1e">Inact MMP12</text>
<text x="466.00" y="496.90" font-size="7.25" textLength="32.94" lengthAdjust="spacingAndGlyphs" fill="#1e1e1e">Act MMP12</text>
</svg></body></html>
